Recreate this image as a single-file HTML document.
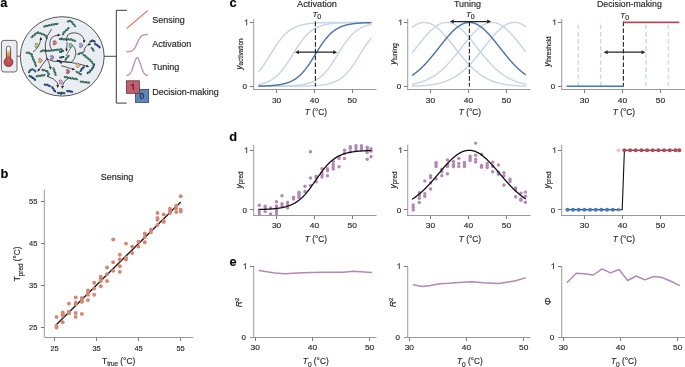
<!DOCTYPE html><html><head><meta charset="utf-8"><style>html,body{margin:0;padding:0;background:#fff;font-family:"Liberation Sans",sans-serif;}svg{display:block;will-change:transform;} text{stroke:#262626;stroke-width:0.15px;}</style></head><body><svg width="685" height="367" viewBox="0 0 685 367" font-family="'Liberation Sans', sans-serif">
<rect width="685" height="367" fill="#fff"/>
<text x="0.3" y="6.8" font-size="12.8" text-anchor="start" fill="#000" font-weight="bold" font-style="normal" >a</text>
<text x="0.6" y="177.9" font-size="12.8" text-anchor="start" fill="#000" font-weight="bold" font-style="normal" >b</text>
<text x="229.4" y="6.9" font-size="12.8" text-anchor="start" fill="#000" font-weight="bold" font-style="normal" >c</text>
<text x="229.3" y="141.2" font-size="12.8" text-anchor="start" fill="#000" font-weight="bold" font-style="normal" >d</text>
<text x="229.4" y="265.8" font-size="12.8" text-anchor="start" fill="#000" font-weight="bold" font-style="normal" >e</text>
<line x1="253.72" y1="19.0" x2="253.72" y2="89.5" stroke="#999999" stroke-width="1" />
<line x1="253.0" y1="89.5" x2="376.5" y2="89.5" stroke="#999999" stroke-width="1" />
<line x1="249.9" y1="22.5" x2="253.5" y2="22.5" stroke="#6e6e6e" stroke-width="0.9" />
<line x1="249.9" y1="86.5" x2="253.5" y2="86.5" stroke="#6e6e6e" stroke-width="0.9" />
<path d="M246.70,19.65 V25.25 M244.70,21.05 Q246.10,20.70 246.70,19.65" fill="none" stroke="#3a3a3a" stroke-width="0.95"/>
<text x="244.8" y="89.1" font-size="8" text-anchor="middle" fill="#262626" font-weight="normal" font-style="normal" >0</text>
<line x1="276.5" y1="89.5" x2="276.5" y2="93.0" stroke="#6e6e6e" stroke-width="0.9" />
<text x="276.6" y="102.9" font-size="8" text-anchor="middle" fill="#262626" font-weight="normal" font-style="normal" textLength="9.3" lengthAdjust="spacingAndGlyphs" >30</text>
<line x1="314.5" y1="89.5" x2="314.5" y2="93.0" stroke="#6e6e6e" stroke-width="0.9" />
<text x="314.40000000000003" y="102.9" font-size="8" text-anchor="middle" fill="#262626" font-weight="normal" font-style="normal" textLength="9.3" lengthAdjust="spacingAndGlyphs" >40</text>
<line x1="352.5" y1="89.5" x2="352.5" y2="93.0" stroke="#6e6e6e" stroke-width="0.9" />
<text x="352.20000000000005" y="102.9" font-size="8" text-anchor="middle" fill="#262626" font-weight="normal" font-style="normal" textLength="9.3" lengthAdjust="spacingAndGlyphs" >50</text>
<text x="304.8" y="115.3" font-size="8.3" fill="#262626"><tspan font-style="italic">T</tspan> (°C)</text>
<text x="317.05" y="6.6" font-size="9" text-anchor="middle" fill="#262626" font-weight="normal" font-style="normal" textLength="39.9" lengthAdjust="spacingAndGlyphs" >Activation</text>
<line x1="407.72" y1="19.0" x2="407.72" y2="89.5" stroke="#999999" stroke-width="1" />
<line x1="407.0" y1="89.5" x2="530.5" y2="89.5" stroke="#999999" stroke-width="1" />
<line x1="403.9" y1="22.5" x2="407.5" y2="22.5" stroke="#6e6e6e" stroke-width="0.9" />
<line x1="403.9" y1="86.5" x2="407.5" y2="86.5" stroke="#6e6e6e" stroke-width="0.9" />
<path d="M400.80,19.65 V25.25 M398.80,21.05 Q400.20,20.70 400.80,19.65" fill="none" stroke="#3a3a3a" stroke-width="0.95"/>
<text x="398.9" y="89.1" font-size="8" text-anchor="middle" fill="#262626" font-weight="normal" font-style="normal" >0</text>
<line x1="430.5" y1="89.5" x2="430.5" y2="93.0" stroke="#6e6e6e" stroke-width="0.9" />
<text x="430.4" y="102.9" font-size="8" text-anchor="middle" fill="#262626" font-weight="normal" font-style="normal" textLength="9.3" lengthAdjust="spacingAndGlyphs" >30</text>
<line x1="468.5" y1="89.5" x2="468.5" y2="93.0" stroke="#6e6e6e" stroke-width="0.9" />
<text x="468.4" y="102.9" font-size="8" text-anchor="middle" fill="#262626" font-weight="normal" font-style="normal" textLength="9.3" lengthAdjust="spacingAndGlyphs" >40</text>
<line x1="506.5" y1="89.5" x2="506.5" y2="93.0" stroke="#6e6e6e" stroke-width="0.9" />
<text x="506.4" y="102.9" font-size="8" text-anchor="middle" fill="#262626" font-weight="normal" font-style="normal" textLength="9.3" lengthAdjust="spacingAndGlyphs" >50</text>
<text x="458.8" y="115.3" font-size="8.3" fill="#262626"><tspan font-style="italic">T</tspan> (°C)</text>
<text x="467.4" y="6.6" font-size="9" text-anchor="middle" fill="#262626" font-weight="normal" font-style="normal" textLength="27.0" lengthAdjust="spacingAndGlyphs" >Tuning</text>
<line x1="561.72" y1="19.0" x2="561.72" y2="89.5" stroke="#999999" stroke-width="1" />
<line x1="561.0" y1="89.5" x2="685" y2="89.5" stroke="#999999" stroke-width="1" />
<line x1="557.9" y1="22.5" x2="561.5" y2="22.5" stroke="#6e6e6e" stroke-width="0.9" />
<line x1="557.9" y1="86.5" x2="561.5" y2="86.5" stroke="#6e6e6e" stroke-width="0.9" />
<path d="M554.80,19.65 V25.25 M552.80,21.05 Q554.20,20.70 554.80,19.65" fill="none" stroke="#3a3a3a" stroke-width="0.95"/>
<text x="552.9" y="89.1" font-size="8" text-anchor="middle" fill="#262626" font-weight="normal" font-style="normal" >0</text>
<line x1="584.5" y1="89.5" x2="584.5" y2="93.0" stroke="#6e6e6e" stroke-width="0.9" />
<text x="584.4" y="102.9" font-size="8" text-anchor="middle" fill="#262626" font-weight="normal" font-style="normal" textLength="9.3" lengthAdjust="spacingAndGlyphs" >30</text>
<line x1="622.5" y1="89.5" x2="622.5" y2="93.0" stroke="#6e6e6e" stroke-width="0.9" />
<text x="622.4" y="102.9" font-size="8" text-anchor="middle" fill="#262626" font-weight="normal" font-style="normal" textLength="9.3" lengthAdjust="spacingAndGlyphs" >40</text>
<line x1="660.5" y1="89.5" x2="660.5" y2="93.0" stroke="#6e6e6e" stroke-width="0.9" />
<text x="660.4" y="102.9" font-size="8" text-anchor="middle" fill="#262626" font-weight="normal" font-style="normal" textLength="9.3" lengthAdjust="spacingAndGlyphs" >50</text>
<text x="612.8" y="115.3" font-size="8.3" fill="#262626"><tspan font-style="italic">T</tspan> (°C)</text>
<text x="629.4" y="6.6" font-size="9" text-anchor="middle" fill="#262626" font-weight="normal" font-style="normal" textLength="64.8" lengthAdjust="spacingAndGlyphs" >Decision-making</text>
<polyline points="258.83,71.42 259.21,70.98 259.59,70.53 259.97,70.06 260.35,69.59 260.72,69.11 261.10,68.63 261.48,68.13 261.86,67.63 262.24,67.11 262.61,66.59 262.99,66.07 263.37,65.53 263.75,64.99 264.13,64.44 264.50,63.88 264.88,63.32 265.26,62.75 265.64,62.18 266.02,61.59 266.39,61.01 266.77,60.42 267.15,59.83 267.53,59.23 267.91,58.63 268.28,58.02 268.66,57.41 269.04,56.80 269.42,56.19 269.80,55.58 270.17,54.96 270.55,54.35 270.93,53.74 271.31,53.12 271.69,52.51 272.06,51.90 272.44,51.29 272.82,50.68 273.20,50.07 273.58,49.47 273.95,48.87 274.33,48.28 274.71,47.69 275.09,47.11 275.47,46.52 275.84,45.95 276.22,45.38 276.60,44.82 276.98,44.26 277.36,43.71 277.73,43.17 278.11,42.63 278.49,42.11 278.87,41.59 279.25,41.07 279.62,40.57 280.00,40.07 280.38,39.59 280.76,39.11 281.14,38.64 281.51,38.17 281.89,37.72 282.27,37.28 282.65,36.84 283.03,36.42 283.40,36.00 283.78,35.60 284.16,35.20 284.54,34.81 284.92,34.43 285.29,34.06 285.67,33.69 286.05,33.34 286.43,33.00 286.81,32.66 287.18,32.33 287.56,32.02 287.94,31.71 288.32,31.40 288.70,31.11 289.07,30.83 289.45,30.55 289.83,30.28 290.21,30.02 290.59,29.76 290.96,29.52 291.34,29.28 291.72,29.04 292.10,28.82 292.48,28.60 292.85,28.39 293.23,28.18 293.61,27.98 293.99,27.79 294.37,27.60 294.74,27.42 295.12,27.25 295.50,27.08 295.88,26.91 296.26,26.76 296.63,26.60 297.01,26.45 297.39,26.31 297.77,26.17 298.15,26.04 298.52,25.91 298.90,25.78 299.28,25.66 299.66,25.54 300.04,25.43 300.41,25.32 300.79,25.22 301.17,25.11 301.55,25.02 301.93,24.92 302.30,24.83 302.68,24.74 303.06,24.66 303.44,24.57 303.82,24.49 304.19,24.42 304.57,24.34 304.95,24.27 305.33,24.20 305.71,24.14 306.08,24.07 306.46,24.01 306.84,23.95 307.22,23.90 307.60,23.84 307.97,23.79 308.35,23.74 308.73,23.69 309.11,23.64 309.49,23.59 309.86,23.55 310.24,23.51 310.62,23.47 311.00,23.43 311.38,23.39 311.75,23.35 312.13,23.32 312.51,23.28 312.89,23.25 313.27,23.22 313.64,23.19 314.02,23.16 314.40,23.13 314.78,23.10 315.16,23.08 315.53,23.05 315.91,23.03 316.29,23.00 316.67,22.98 317.05,22.96 317.42,22.94 317.80,22.92 318.18,22.90 318.56,22.88 318.94,22.86 319.31,22.84 319.69,22.83 320.07,22.81 320.45,22.80 320.83,22.78 321.20,22.77 321.58,22.75 321.96,22.74 322.34,22.73 322.72,22.71 323.09,22.70 323.47,22.69 323.85,22.68 324.23,22.67 324.61,22.66 324.98,22.65 325.36,22.64 325.74,22.63 326.12,22.62 326.50,22.61 326.87,22.61 327.25,22.60 327.63,22.59 328.01,22.58 328.39,22.58 328.76,22.57 329.14,22.56 329.52,22.56 329.90,22.55 330.28,22.55 330.65,22.54 331.03,22.54 331.41,22.53 331.79,22.53 332.17,22.52 332.54,22.52 332.92,22.51 333.30,22.51 333.68,22.50 334.06,22.50 334.43,22.50 334.81,22.49 335.19,22.49 335.57,22.49 335.95,22.48 336.32,22.48 336.70,22.48 337.08,22.47 337.46,22.47 337.84,22.47 338.21,22.47 338.59,22.46 338.97,22.46 339.35,22.46 339.73,22.46 340.10,22.45 340.48,22.45 340.86,22.45 341.24,22.45 341.62,22.45 341.99,22.44 342.37,22.44 342.75,22.44 343.13,22.44 343.51,22.44 343.88,22.44 344.26,22.44 344.64,22.43 345.02,22.43 345.40,22.43 345.77,22.43 346.15,22.43 346.53,22.43 346.91,22.43 347.29,22.43 347.66,22.42 348.04,22.42 348.42,22.42 348.80,22.42 349.18,22.42 349.55,22.42 349.93,22.42 350.31,22.42 350.69,22.42 351.07,22.42 351.44,22.42 351.82,22.42 352.20,22.42 352.58,22.42 352.96,22.41 353.33,22.41 353.71,22.41 354.09,22.41 354.47,22.41 354.85,22.41 355.22,22.41 355.60,22.41 355.98,22.41 356.36,22.41 356.74,22.41 357.11,22.41 357.49,22.41 357.87,22.41 358.25,22.41 358.63,22.41 359.00,22.41 359.38,22.41 359.76,22.41 360.14,22.41 360.52,22.41 360.89,22.41 361.27,22.41 361.65,22.41 362.03,22.41 362.41,22.41 362.78,22.41 363.16,22.41 363.54,22.40 363.92,22.40 364.30,22.40 364.67,22.40 365.05,22.40 365.43,22.40 365.81,22.40 366.19,22.40 366.56,22.40 366.94,22.40 367.32,22.40 367.70,22.40 368.08,22.40 368.45,22.40 368.83,22.40 369.21,22.40 369.59,22.40 369.97,22.40 370.34,22.40 370.72,22.40 371.10,22.40" fill="none" stroke="#c8d5e7" stroke-width="1.45" stroke-linejoin="round" stroke-linecap="round" />
<polyline points="258.83,84.36 259.21,84.28 259.59,84.21 259.97,84.13 260.35,84.04 260.72,83.96 261.10,83.87 261.48,83.78 261.86,83.68 262.24,83.59 262.61,83.48 262.99,83.38 263.37,83.27 263.75,83.16 264.13,83.04 264.50,82.92 264.88,82.79 265.26,82.66 265.64,82.53 266.02,82.39 266.39,82.25 266.77,82.10 267.15,81.94 267.53,81.79 267.91,81.62 268.28,81.45 268.66,81.28 269.04,81.10 269.42,80.91 269.80,80.72 270.17,80.52 270.55,80.31 270.93,80.10 271.31,79.88 271.69,79.66 272.06,79.42 272.44,79.18 272.82,78.94 273.20,78.68 273.58,78.42 273.95,78.15 274.33,77.87 274.71,77.59 275.09,77.30 275.47,76.99 275.84,76.68 276.22,76.37 276.60,76.04 276.98,75.70 277.36,75.36 277.73,75.01 278.11,74.64 278.49,74.27 278.87,73.89 279.25,73.50 279.62,73.10 280.00,72.70 280.38,72.28 280.76,71.86 281.14,71.42 281.51,70.98 281.89,70.53 282.27,70.06 282.65,69.59 283.03,69.11 283.40,68.63 283.78,68.13 284.16,67.63 284.54,67.11 284.92,66.59 285.29,66.07 285.67,65.53 286.05,64.99 286.43,64.44 286.81,63.88 287.18,63.32 287.56,62.75 287.94,62.18 288.32,61.59 288.70,61.01 289.07,60.42 289.45,59.83 289.83,59.23 290.21,58.63 290.59,58.02 290.96,57.41 291.34,56.80 291.72,56.19 292.10,55.58 292.48,54.96 292.85,54.35 293.23,53.74 293.61,53.12 293.99,52.51 294.37,51.90 294.74,51.29 295.12,50.68 295.50,50.07 295.88,49.47 296.26,48.87 296.63,48.28 297.01,47.69 297.39,47.11 297.77,46.52 298.15,45.95 298.52,45.38 298.90,44.82 299.28,44.26 299.66,43.71 300.04,43.17 300.41,42.63 300.79,42.11 301.17,41.59 301.55,41.07 301.93,40.57 302.30,40.07 302.68,39.59 303.06,39.11 303.44,38.64 303.82,38.17 304.19,37.72 304.57,37.28 304.95,36.84 305.33,36.42 305.71,36.00 306.08,35.60 306.46,35.20 306.84,34.81 307.22,34.43 307.60,34.06 307.97,33.69 308.35,33.34 308.73,33.00 309.11,32.66 309.49,32.33 309.86,32.02 310.24,31.71 310.62,31.40 311.00,31.11 311.38,30.83 311.75,30.55 312.13,30.28 312.51,30.02 312.89,29.76 313.27,29.52 313.64,29.28 314.02,29.04 314.40,28.82 314.78,28.60 315.16,28.39 315.53,28.18 315.91,27.98 316.29,27.79 316.67,27.60 317.05,27.42 317.42,27.25 317.80,27.08 318.18,26.91 318.56,26.76 318.94,26.60 319.31,26.45 319.69,26.31 320.07,26.17 320.45,26.04 320.83,25.91 321.20,25.78 321.58,25.66 321.96,25.54 322.34,25.43 322.72,25.32 323.09,25.22 323.47,25.11 323.85,25.02 324.23,24.92 324.61,24.83 324.98,24.74 325.36,24.66 325.74,24.57 326.12,24.49 326.50,24.42 326.87,24.34 327.25,24.27 327.63,24.20 328.01,24.14 328.39,24.07 328.76,24.01 329.14,23.95 329.52,23.90 329.90,23.84 330.28,23.79 330.65,23.74 331.03,23.69 331.41,23.64 331.79,23.59 332.17,23.55 332.54,23.51 332.92,23.47 333.30,23.43 333.68,23.39 334.06,23.35 334.43,23.32 334.81,23.28 335.19,23.25 335.57,23.22 335.95,23.19 336.32,23.16 336.70,23.13 337.08,23.10 337.46,23.08 337.84,23.05 338.21,23.03 338.59,23.00 338.97,22.98 339.35,22.96 339.73,22.94 340.10,22.92 340.48,22.90 340.86,22.88 341.24,22.86 341.62,22.84 341.99,22.83 342.37,22.81 342.75,22.80 343.13,22.78 343.51,22.77 343.88,22.75 344.26,22.74 344.64,22.73 345.02,22.71 345.40,22.70 345.77,22.69 346.15,22.68 346.53,22.67 346.91,22.66 347.29,22.65 347.66,22.64 348.04,22.63 348.42,22.62 348.80,22.61 349.18,22.61 349.55,22.60 349.93,22.59 350.31,22.58 350.69,22.58 351.07,22.57 351.44,22.56 351.82,22.56 352.20,22.55 352.58,22.55 352.96,22.54 353.33,22.54 353.71,22.53 354.09,22.53 354.47,22.52 354.85,22.52 355.22,22.51 355.60,22.51 355.98,22.50 356.36,22.50 356.74,22.50 357.11,22.49 357.49,22.49 357.87,22.49 358.25,22.48 358.63,22.48 359.00,22.48 359.38,22.47 359.76,22.47 360.14,22.47 360.52,22.47 360.89,22.46 361.27,22.46 361.65,22.46 362.03,22.46 362.41,22.45 362.78,22.45 363.16,22.45 363.54,22.45 363.92,22.45 364.30,22.44 364.67,22.44 365.05,22.44 365.43,22.44 365.81,22.44 366.19,22.44 366.56,22.44 366.94,22.43 367.32,22.43 367.70,22.43 368.08,22.43 368.45,22.43 368.83,22.43 369.21,22.43 369.59,22.43 369.97,22.42 370.34,22.42 370.72,22.42 371.10,22.42" fill="none" stroke="#c8d5e7" stroke-width="1.45" stroke-linejoin="round" stroke-linecap="round" />
<polyline points="258.83,86.28 259.21,86.28 259.59,86.28 259.97,86.28 260.35,86.28 260.72,86.28 261.10,86.27 261.48,86.27 261.86,86.27 262.24,86.27 262.61,86.27 262.99,86.27 263.37,86.27 263.75,86.27 264.13,86.26 264.50,86.26 264.88,86.26 265.26,86.26 265.64,86.26 266.02,86.26 266.39,86.26 266.77,86.25 267.15,86.25 267.53,86.25 267.91,86.25 268.28,86.25 268.66,86.24 269.04,86.24 269.42,86.24 269.80,86.24 270.17,86.23 270.55,86.23 270.93,86.23 271.31,86.23 271.69,86.22 272.06,86.22 272.44,86.22 272.82,86.21 273.20,86.21 273.58,86.21 273.95,86.20 274.33,86.20 274.71,86.20 275.09,86.19 275.47,86.19 275.84,86.18 276.22,86.18 276.60,86.17 276.98,86.17 277.36,86.16 277.73,86.16 278.11,86.15 278.49,86.15 278.87,86.14 279.25,86.14 279.62,86.13 280.00,86.12 280.38,86.12 280.76,86.11 281.14,86.10 281.51,86.09 281.89,86.09 282.27,86.08 282.65,86.07 283.03,86.06 283.40,86.05 283.78,86.04 284.16,86.03 284.54,86.02 284.92,86.01 285.29,86.00 285.67,85.99 286.05,85.97 286.43,85.96 286.81,85.95 287.18,85.93 287.56,85.92 287.94,85.90 288.32,85.89 288.70,85.87 289.07,85.86 289.45,85.84 289.83,85.82 290.21,85.80 290.59,85.78 290.96,85.76 291.34,85.74 291.72,85.72 292.10,85.70 292.48,85.67 292.85,85.65 293.23,85.62 293.61,85.60 293.99,85.57 294.37,85.54 294.74,85.51 295.12,85.48 295.50,85.45 295.88,85.42 296.26,85.38 296.63,85.35 297.01,85.31 297.39,85.27 297.77,85.23 298.15,85.19 298.52,85.15 298.90,85.11 299.28,85.06 299.66,85.01 300.04,84.96 300.41,84.91 300.79,84.86 301.17,84.80 301.55,84.75 301.93,84.69 302.30,84.63 302.68,84.56 303.06,84.50 303.44,84.43 303.82,84.36 304.19,84.28 304.57,84.21 304.95,84.13 305.33,84.04 305.71,83.96 306.08,83.87 306.46,83.78 306.84,83.68 307.22,83.59 307.60,83.48 307.97,83.38 308.35,83.27 308.73,83.16 309.11,83.04 309.49,82.92 309.86,82.79 310.24,82.66 310.62,82.53 311.00,82.39 311.38,82.25 311.75,82.10 312.13,81.94 312.51,81.79 312.89,81.62 313.27,81.45 313.64,81.28 314.02,81.10 314.40,80.91 314.78,80.72 315.16,80.52 315.53,80.31 315.91,80.10 316.29,79.88 316.67,79.66 317.05,79.42 317.42,79.18 317.80,78.94 318.18,78.68 318.56,78.42 318.94,78.15 319.31,77.87 319.69,77.59 320.07,77.30 320.45,76.99 320.83,76.68 321.20,76.37 321.58,76.04 321.96,75.70 322.34,75.36 322.72,75.01 323.09,74.64 323.47,74.27 323.85,73.89 324.23,73.50 324.61,73.10 324.98,72.70 325.36,72.28 325.74,71.86 326.12,71.42 326.50,70.98 326.87,70.53 327.25,70.06 327.63,69.59 328.01,69.11 328.39,68.63 328.76,68.13 329.14,67.63 329.52,67.11 329.90,66.59 330.28,66.07 330.65,65.53 331.03,64.99 331.41,64.44 331.79,63.88 332.17,63.32 332.54,62.75 332.92,62.18 333.30,61.59 333.68,61.01 334.06,60.42 334.43,59.83 334.81,59.23 335.19,58.63 335.57,58.02 335.95,57.41 336.32,56.80 336.70,56.19 337.08,55.58 337.46,54.96 337.84,54.35 338.21,53.74 338.59,53.12 338.97,52.51 339.35,51.90 339.73,51.29 340.10,50.68 340.48,50.07 340.86,49.47 341.24,48.87 341.62,48.28 341.99,47.69 342.37,47.11 342.75,46.52 343.13,45.95 343.51,45.38 343.88,44.82 344.26,44.26 344.64,43.71 345.02,43.17 345.40,42.63 345.77,42.11 346.15,41.59 346.53,41.07 346.91,40.57 347.29,40.07 347.66,39.59 348.04,39.11 348.42,38.64 348.80,38.17 349.18,37.72 349.55,37.28 349.93,36.84 350.31,36.42 350.69,36.00 351.07,35.60 351.44,35.20 351.82,34.81 352.20,34.43 352.58,34.06 352.96,33.69 353.33,33.34 353.71,33.00 354.09,32.66 354.47,32.33 354.85,32.02 355.22,31.71 355.60,31.40 355.98,31.11 356.36,30.83 356.74,30.55 357.11,30.28 357.49,30.02 357.87,29.76 358.25,29.52 358.63,29.28 359.00,29.04 359.38,28.82 359.76,28.60 360.14,28.39 360.52,28.18 360.89,27.98 361.27,27.79 361.65,27.60 362.03,27.42 362.41,27.25 362.78,27.08 363.16,26.91 363.54,26.76 363.92,26.60 364.30,26.45 364.67,26.31 365.05,26.17 365.43,26.04 365.81,25.91 366.19,25.78 366.56,25.66 366.94,25.54 367.32,25.43 367.70,25.32 368.08,25.22 368.45,25.11 368.83,25.02 369.21,24.92 369.59,24.83 369.97,24.74 370.34,24.66 370.72,24.57 371.10,24.49" fill="none" stroke="#c8d5e7" stroke-width="1.45" stroke-linejoin="round" stroke-linecap="round" />
<polyline points="258.83,86.30 259.21,86.30 259.59,86.30 259.97,86.30 260.35,86.30 260.72,86.30 261.10,86.30 261.48,86.30 261.86,86.30 262.24,86.30 262.61,86.30 262.99,86.30 263.37,86.30 263.75,86.30 264.13,86.30 264.50,86.30 264.88,86.30 265.26,86.30 265.64,86.30 266.02,86.30 266.39,86.30 266.77,86.30 267.15,86.30 267.53,86.29 267.91,86.29 268.28,86.29 268.66,86.29 269.04,86.29 269.42,86.29 269.80,86.29 270.17,86.29 270.55,86.29 270.93,86.29 271.31,86.29 271.69,86.29 272.06,86.29 272.44,86.29 272.82,86.29 273.20,86.29 273.58,86.29 273.95,86.29 274.33,86.29 274.71,86.29 275.09,86.29 275.47,86.29 275.84,86.29 276.22,86.29 276.60,86.29 276.98,86.29 277.36,86.29 277.73,86.29 278.11,86.28 278.49,86.28 278.87,86.28 279.25,86.28 279.62,86.28 280.00,86.28 280.38,86.28 280.76,86.28 281.14,86.28 281.51,86.28 281.89,86.28 282.27,86.28 282.65,86.28 283.03,86.28 283.40,86.27 283.78,86.27 284.16,86.27 284.54,86.27 284.92,86.27 285.29,86.27 285.67,86.27 286.05,86.27 286.43,86.26 286.81,86.26 287.18,86.26 287.56,86.26 287.94,86.26 288.32,86.26 288.70,86.26 289.07,86.25 289.45,86.25 289.83,86.25 290.21,86.25 290.59,86.25 290.96,86.24 291.34,86.24 291.72,86.24 292.10,86.24 292.48,86.23 292.85,86.23 293.23,86.23 293.61,86.23 293.99,86.22 294.37,86.22 294.74,86.22 295.12,86.21 295.50,86.21 295.88,86.21 296.26,86.20 296.63,86.20 297.01,86.20 297.39,86.19 297.77,86.19 298.15,86.18 298.52,86.18 298.90,86.17 299.28,86.17 299.66,86.16 300.04,86.16 300.41,86.15 300.79,86.15 301.17,86.14 301.55,86.14 301.93,86.13 302.30,86.12 302.68,86.12 303.06,86.11 303.44,86.10 303.82,86.09 304.19,86.09 304.57,86.08 304.95,86.07 305.33,86.06 305.71,86.05 306.08,86.04 306.46,86.03 306.84,86.02 307.22,86.01 307.60,86.00 307.97,85.99 308.35,85.97 308.73,85.96 309.11,85.95 309.49,85.93 309.86,85.92 310.24,85.90 310.62,85.89 311.00,85.87 311.38,85.86 311.75,85.84 312.13,85.82 312.51,85.80 312.89,85.78 313.27,85.76 313.64,85.74 314.02,85.72 314.40,85.70 314.78,85.67 315.16,85.65 315.53,85.62 315.91,85.60 316.29,85.57 316.67,85.54 317.05,85.51 317.42,85.48 317.80,85.45 318.18,85.42 318.56,85.38 318.94,85.35 319.31,85.31 319.69,85.27 320.07,85.23 320.45,85.19 320.83,85.15 321.20,85.11 321.58,85.06 321.96,85.01 322.34,84.96 322.72,84.91 323.09,84.86 323.47,84.80 323.85,84.75 324.23,84.69 324.61,84.63 324.98,84.56 325.36,84.50 325.74,84.43 326.12,84.36 326.50,84.28 326.87,84.21 327.25,84.13 327.63,84.04 328.01,83.96 328.39,83.87 328.76,83.78 329.14,83.68 329.52,83.59 329.90,83.48 330.28,83.38 330.65,83.27 331.03,83.16 331.41,83.04 331.79,82.92 332.17,82.79 332.54,82.66 332.92,82.53 333.30,82.39 333.68,82.25 334.06,82.10 334.43,81.94 334.81,81.79 335.19,81.62 335.57,81.45 335.95,81.28 336.32,81.10 336.70,80.91 337.08,80.72 337.46,80.52 337.84,80.31 338.21,80.10 338.59,79.88 338.97,79.66 339.35,79.42 339.73,79.18 340.10,78.94 340.48,78.68 340.86,78.42 341.24,78.15 341.62,77.87 341.99,77.59 342.37,77.30 342.75,76.99 343.13,76.68 343.51,76.37 343.88,76.04 344.26,75.70 344.64,75.36 345.02,75.01 345.40,74.64 345.77,74.27 346.15,73.89 346.53,73.50 346.91,73.10 347.29,72.70 347.66,72.28 348.04,71.86 348.42,71.42 348.80,70.98 349.18,70.53 349.55,70.06 349.93,69.59 350.31,69.11 350.69,68.63 351.07,68.13 351.44,67.63 351.82,67.11 352.20,66.59 352.58,66.07 352.96,65.53 353.33,64.99 353.71,64.44 354.09,63.88 354.47,63.32 354.85,62.75 355.22,62.18 355.60,61.59 355.98,61.01 356.36,60.42 356.74,59.83 357.11,59.23 357.49,58.63 357.87,58.02 358.25,57.41 358.63,56.80 359.00,56.19 359.38,55.58 359.76,54.96 360.14,54.35 360.52,53.74 360.89,53.12 361.27,52.51 361.65,51.90 362.03,51.29 362.41,50.68 362.78,50.07 363.16,49.47 363.54,48.87 363.92,48.28 364.30,47.69 364.67,47.11 365.05,46.52 365.43,45.95 365.81,45.38 366.19,44.82 366.56,44.26 366.94,43.71 367.32,43.17 367.70,42.63 368.08,42.11 368.45,41.59 368.83,41.07 369.21,40.57 369.59,40.07 369.97,39.59 370.34,39.11 370.72,38.64 371.10,38.17" fill="none" stroke="#c8d5e7" stroke-width="1.45" stroke-linejoin="round" stroke-linecap="round" />
<polyline points="258.83,86.10 259.21,86.09 259.59,86.08 259.97,86.07 260.35,86.06 260.72,86.06 261.10,86.05 261.48,86.04 261.86,86.03 262.24,86.01 262.61,86.00 262.99,85.99 263.37,85.98 263.75,85.97 264.13,85.95 264.50,85.94 264.88,85.93 265.26,85.91 265.64,85.90 266.02,85.88 266.39,85.87 266.77,85.85 267.15,85.83 267.53,85.81 267.91,85.79 268.28,85.77 268.66,85.75 269.04,85.73 269.42,85.71 269.80,85.69 270.17,85.66 270.55,85.64 270.93,85.61 271.31,85.59 271.69,85.56 272.06,85.53 272.44,85.50 272.82,85.47 273.20,85.44 273.58,85.40 273.95,85.37 274.33,85.33 274.71,85.30 275.09,85.26 275.47,85.22 275.84,85.18 276.22,85.13 276.60,85.09 276.98,85.04 277.36,84.99 277.73,84.94 278.11,84.89 278.49,84.84 278.87,84.78 279.25,84.72 279.62,84.66 280.00,84.60 280.38,84.54 280.76,84.47 281.14,84.40 281.51,84.33 281.89,84.25 282.27,84.17 282.65,84.09 283.03,84.01 283.40,83.92 283.78,83.83 284.16,83.74 284.54,83.65 284.92,83.55 285.29,83.44 285.67,83.34 286.05,83.22 286.43,83.11 286.81,82.99 287.18,82.87 287.56,82.74 287.94,82.61 288.32,82.47 288.70,82.33 289.07,82.19 289.45,82.04 289.83,81.88 290.21,81.72 290.59,81.56 290.96,81.38 291.34,81.21 291.72,81.02 292.10,80.83 292.48,80.64 292.85,80.44 293.23,80.23 293.61,80.01 293.99,79.79 294.37,79.56 294.74,79.33 295.12,79.09 295.50,78.84 295.88,78.58 296.26,78.31 296.63,78.04 297.01,77.76 297.39,77.47 297.77,77.18 298.15,76.87 298.52,76.56 298.90,76.24 299.28,75.91 299.66,75.57 300.04,75.22 300.41,74.86 300.79,74.50 301.17,74.12 301.55,73.74 301.93,73.34 302.30,72.94 302.68,72.53 303.06,72.11 303.44,71.68 303.82,71.24 304.19,70.80 304.57,70.34 304.95,69.88 305.33,69.40 305.71,68.92 306.08,68.43 306.46,67.93 306.84,67.42 307.22,66.91 307.60,66.38 307.97,65.85 308.35,65.31 308.73,64.77 309.11,64.22 309.49,63.66 309.86,63.09 310.24,62.52 310.62,61.94 311.00,61.36 311.38,60.77 311.75,60.18 312.13,59.59 312.51,58.99 312.89,58.38 313.27,57.78 313.64,57.17 314.02,56.56 314.40,55.95 314.78,55.33 315.16,54.72 315.53,54.10 315.91,53.49 316.29,52.88 316.67,52.26 317.05,51.65 317.42,51.04 317.80,50.44 318.18,49.83 318.56,49.23 318.94,48.64 319.31,48.04 319.69,47.46 320.07,46.87 320.45,46.29 320.83,45.72 321.20,45.16 321.58,44.59 321.96,44.04 322.34,43.49 322.72,42.95 323.09,42.42 323.47,41.90 323.85,41.38 324.23,40.87 324.61,40.37 324.98,39.88 325.36,39.39 325.74,38.92 326.12,38.45 326.50,37.99 326.87,37.54 327.25,37.10 327.63,36.67 328.01,36.25 328.39,35.84 328.76,35.43 329.14,35.04 329.52,34.65 329.90,34.28 330.28,33.91 330.65,33.55 331.03,33.20 331.41,32.86 331.79,32.53 332.17,32.21 332.54,31.89 332.92,31.58 333.30,31.29 333.68,31.00 334.06,30.71 334.43,30.44 334.81,30.17 335.19,29.91 335.57,29.66 335.95,29.42 336.32,29.18 336.70,28.95 337.08,28.73 337.46,28.51 337.84,28.30 338.21,28.10 338.59,27.91 338.97,27.71 339.35,27.53 339.73,27.35 340.10,27.18 340.48,27.01 340.86,26.85 341.24,26.69 341.62,26.54 341.99,26.40 342.37,26.25 342.75,26.12 343.13,25.98 343.51,25.86 343.88,25.73 344.26,25.61 344.64,25.50 345.02,25.39 345.40,25.28 345.77,25.17 346.15,25.07 346.53,24.98 346.91,24.88 347.29,24.79 347.66,24.71 348.04,24.62 348.42,24.54 348.80,24.46 349.18,24.39 349.55,24.32 349.93,24.25 350.31,24.18 350.69,24.11 351.07,24.05 351.44,23.99 351.82,23.93 352.20,23.87 352.58,23.82 352.96,23.77 353.33,23.72 353.71,23.67 354.09,23.62 354.47,23.58 354.85,23.53 355.22,23.49 355.60,23.45 355.98,23.41 356.36,23.37 356.74,23.34 357.11,23.30 357.49,23.27 357.87,23.24 358.25,23.21 358.63,23.18 359.00,23.15 359.38,23.12 359.76,23.09 360.14,23.07 360.52,23.04 360.89,23.02 361.27,22.99 361.65,22.97 362.03,22.95 362.41,22.93 362.78,22.91 363.16,22.89 363.54,22.87 363.92,22.85 364.30,22.84 364.67,22.82 365.05,22.81 365.43,22.79 365.81,22.78 366.19,22.76 366.56,22.75 366.94,22.73 367.32,22.72 367.70,22.71 368.08,22.70 368.45,22.69 368.83,22.68 369.21,22.67 369.59,22.66 369.97,22.65 370.34,22.64 370.72,22.63 371.10,22.62" fill="none" stroke="#4f74a8" stroke-width="1.45" stroke-linejoin="round" stroke-linecap="round" />
<polyline points="412.54,27.02 412.92,26.74 413.30,26.46 413.68,26.20 414.06,25.94 414.44,25.69 414.82,25.45 415.20,25.21 415.58,24.99 415.96,24.77 416.34,24.56 416.72,24.37 417.10,24.18 417.48,24.00 417.86,23.83 418.24,23.67 418.62,23.51 419.00,23.37 419.38,23.24 419.76,23.11 420.14,23.00 420.52,22.90 420.90,22.80 421.28,22.72 421.66,22.64 422.04,22.58 422.42,22.52 422.80,22.48 423.18,22.44 423.56,22.42 423.94,22.40 424.32,22.40 424.70,22.40 425.08,22.42 425.46,22.44 425.84,22.48 426.22,22.52 426.60,22.58 426.98,22.64 427.36,22.72 427.74,22.80 428.12,22.90 428.50,23.00 428.88,23.11 429.26,23.24 429.64,23.37 430.02,23.51 430.40,23.67 430.78,23.83 431.16,24.00 431.54,24.18 431.92,24.37 432.30,24.56 432.68,24.77 433.06,24.99 433.44,25.21 433.82,25.45 434.20,25.69 434.58,25.94 434.96,26.20 435.34,26.46 435.72,26.74 436.10,27.02 436.48,27.31 436.86,27.61 437.24,27.92 437.62,28.23 438.00,28.55 438.38,28.88 438.76,29.22 439.14,29.56 439.52,29.91 439.90,30.26 440.28,30.63 440.66,30.99 441.04,31.37 441.42,31.75 441.80,32.14 442.18,32.53 442.56,32.93 442.94,33.33 443.32,33.74 443.70,34.15 444.08,34.57 444.46,34.99 444.84,35.42 445.22,35.85 445.60,36.29 445.98,36.72 446.36,37.17 446.74,37.62 447.12,38.07 447.50,38.52 447.88,38.98 448.26,39.44 448.64,39.90 449.02,40.36 449.40,40.83 449.78,41.30 450.16,41.77 450.54,42.25 450.92,42.72 451.30,43.20 451.68,43.68 452.06,44.16 452.44,44.64 452.82,45.12 453.20,45.61 453.58,46.09 453.96,46.57 454.34,47.06 454.72,47.54 455.10,48.03 455.48,48.51 455.86,49.00 456.24,49.48 456.62,49.96 457.00,50.44 457.38,50.93 457.76,51.41 458.14,51.89 458.52,52.36 458.90,52.84 459.28,53.31 459.66,53.79 460.04,54.26 460.42,54.73 460.80,55.20 461.18,55.66 461.56,56.13 461.94,56.59 462.32,57.04 462.70,57.50 463.08,57.95 463.46,58.40 463.84,58.85 464.22,59.30 464.60,59.74 464.98,60.18 465.36,60.61 465.74,61.04 466.12,61.47 466.50,61.90 466.88,62.32 467.26,62.74 467.64,63.15 468.02,63.56 468.40,63.97 468.78,64.37 469.16,64.77 469.54,65.16 469.92,65.55 470.30,65.94 470.68,66.32 471.06,66.70 471.44,67.08 471.82,67.45 472.20,67.81 472.58,68.18 472.96,68.53 473.34,68.89 473.72,69.24 474.10,69.58 474.48,69.92 474.86,70.26 475.24,70.59 475.62,70.91 476.00,71.24 476.38,71.55 476.76,71.87 477.14,72.18 477.52,72.48 477.90,72.78 478.28,73.08 478.66,73.37 479.04,73.65 479.42,73.94 479.80,74.21 480.18,74.49 480.56,74.76 480.94,75.02 481.32,75.28 481.70,75.54 482.08,75.79 482.46,76.04 482.84,76.28 483.22,76.52 483.60,76.75 483.98,76.99 484.36,77.21 484.74,77.43 485.12,77.65 485.50,77.87 485.88,78.08 486.26,78.28 486.64,78.48 487.02,78.68 487.40,78.88 487.78,79.07 488.16,79.25 488.54,79.44 488.92,79.62 489.30,79.79 489.68,79.97 490.06,80.13 490.44,80.30 490.82,80.46 491.20,80.62 491.58,80.77 491.96,80.92 492.34,81.07 492.72,81.22 493.10,81.36 493.48,81.50 493.86,81.63 494.24,81.76 494.62,81.89 495.00,82.02 495.38,82.14 495.76,82.26 496.14,82.38 496.52,82.49 496.90,82.60 497.28,82.71 497.66,82.82 498.04,82.92 498.42,83.02 498.80,83.12 499.18,83.22 499.56,83.31 499.94,83.40 500.32,83.49 500.70,83.58 501.08,83.66 501.46,83.75 501.84,83.83 502.22,83.90 502.60,83.98 502.98,84.05 503.36,84.12 503.74,84.19 504.12,84.26 504.50,84.33 504.88,84.39 505.26,84.45 505.64,84.51 506.02,84.57 506.40,84.63 506.78,84.69 507.16,84.74 507.54,84.79 507.92,84.84 508.30,84.89 508.68,84.94 509.06,84.99 509.44,85.03 509.82,85.08 510.20,85.12 510.58,85.16 510.96,85.20 511.34,85.24 511.72,85.28 512.10,85.31 512.48,85.35 512.86,85.38 513.24,85.41 513.62,85.45 514.00,85.48 514.38,85.51 514.76,85.54 515.14,85.56 515.52,85.59 515.90,85.62 516.28,85.64 516.66,85.67 517.04,85.69 517.42,85.71 517.80,85.73 518.18,85.76 518.56,85.78 518.94,85.80 519.32,85.82 519.70,85.83 520.08,85.85 520.46,85.87 520.84,85.89 521.22,85.90 521.60,85.92 521.98,85.93 522.36,85.95 522.74,85.96 523.12,85.98 523.50,85.99 523.88,86.00 524.26,86.01 524.64,86.02 525.02,86.04 525.40,86.05" fill="none" stroke="#c8d5e7" stroke-width="1.45" stroke-linejoin="round" stroke-linecap="round" />
<polyline points="412.54,52.36 412.92,51.89 413.30,51.41 413.68,50.93 414.06,50.44 414.44,49.96 414.82,49.48 415.20,49.00 415.58,48.51 415.96,48.03 416.34,47.54 416.72,47.06 417.10,46.57 417.48,46.09 417.86,45.61 418.24,45.12 418.62,44.64 419.00,44.16 419.38,43.68 419.76,43.20 420.14,42.72 420.52,42.25 420.90,41.77 421.28,41.30 421.66,40.83 422.04,40.36 422.42,39.90 422.80,39.44 423.18,38.98 423.56,38.52 423.94,38.07 424.32,37.62 424.70,37.17 425.08,36.72 425.46,36.29 425.84,35.85 426.22,35.42 426.60,34.99 426.98,34.57 427.36,34.15 427.74,33.74 428.12,33.33 428.50,32.93 428.88,32.53 429.26,32.14 429.64,31.75 430.02,31.37 430.40,30.99 430.78,30.63 431.16,30.26 431.54,29.91 431.92,29.56 432.30,29.22 432.68,28.88 433.06,28.55 433.44,28.23 433.82,27.92 434.20,27.61 434.58,27.31 434.96,27.02 435.34,26.74 435.72,26.46 436.10,26.20 436.48,25.94 436.86,25.69 437.24,25.45 437.62,25.21 438.00,24.99 438.38,24.77 438.76,24.56 439.14,24.37 439.52,24.18 439.90,24.00 440.28,23.83 440.66,23.67 441.04,23.51 441.42,23.37 441.80,23.24 442.18,23.11 442.56,23.00 442.94,22.90 443.32,22.80 443.70,22.72 444.08,22.64 444.46,22.58 444.84,22.52 445.22,22.48 445.60,22.44 445.98,22.42 446.36,22.40 446.74,22.40 447.12,22.40 447.50,22.42 447.88,22.44 448.26,22.48 448.64,22.52 449.02,22.58 449.40,22.64 449.78,22.72 450.16,22.80 450.54,22.90 450.92,23.00 451.30,23.11 451.68,23.24 452.06,23.37 452.44,23.51 452.82,23.67 453.20,23.83 453.58,24.00 453.96,24.18 454.34,24.37 454.72,24.56 455.10,24.77 455.48,24.99 455.86,25.21 456.24,25.45 456.62,25.69 457.00,25.94 457.38,26.20 457.76,26.46 458.14,26.74 458.52,27.02 458.90,27.31 459.28,27.61 459.66,27.92 460.04,28.23 460.42,28.55 460.80,28.88 461.18,29.22 461.56,29.56 461.94,29.91 462.32,30.26 462.70,30.63 463.08,30.99 463.46,31.37 463.84,31.75 464.22,32.14 464.60,32.53 464.98,32.93 465.36,33.33 465.74,33.74 466.12,34.15 466.50,34.57 466.88,34.99 467.26,35.42 467.64,35.85 468.02,36.29 468.40,36.72 468.78,37.17 469.16,37.62 469.54,38.07 469.92,38.52 470.30,38.98 470.68,39.44 471.06,39.90 471.44,40.36 471.82,40.83 472.20,41.30 472.58,41.77 472.96,42.25 473.34,42.72 473.72,43.20 474.10,43.68 474.48,44.16 474.86,44.64 475.24,45.12 475.62,45.61 476.00,46.09 476.38,46.57 476.76,47.06 477.14,47.54 477.52,48.03 477.90,48.51 478.28,49.00 478.66,49.48 479.04,49.96 479.42,50.44 479.80,50.93 480.18,51.41 480.56,51.89 480.94,52.36 481.32,52.84 481.70,53.31 482.08,53.79 482.46,54.26 482.84,54.73 483.22,55.20 483.60,55.66 483.98,56.13 484.36,56.59 484.74,57.04 485.12,57.50 485.50,57.95 485.88,58.40 486.26,58.85 486.64,59.30 487.02,59.74 487.40,60.18 487.78,60.61 488.16,61.04 488.54,61.47 488.92,61.90 489.30,62.32 489.68,62.74 490.06,63.15 490.44,63.56 490.82,63.97 491.20,64.37 491.58,64.77 491.96,65.16 492.34,65.55 492.72,65.94 493.10,66.32 493.48,66.70 493.86,67.08 494.24,67.45 494.62,67.81 495.00,68.18 495.38,68.53 495.76,68.89 496.14,69.24 496.52,69.58 496.90,69.92 497.28,70.26 497.66,70.59 498.04,70.91 498.42,71.24 498.80,71.55 499.18,71.87 499.56,72.18 499.94,72.48 500.32,72.78 500.70,73.08 501.08,73.37 501.46,73.65 501.84,73.94 502.22,74.21 502.60,74.49 502.98,74.76 503.36,75.02 503.74,75.28 504.12,75.54 504.50,75.79 504.88,76.04 505.26,76.28 505.64,76.52 506.02,76.75 506.40,76.99 506.78,77.21 507.16,77.43 507.54,77.65 507.92,77.87 508.30,78.08 508.68,78.28 509.06,78.48 509.44,78.68 509.82,78.88 510.20,79.07 510.58,79.25 510.96,79.44 511.34,79.62 511.72,79.79 512.10,79.97 512.48,80.13 512.86,80.30 513.24,80.46 513.62,80.62 514.00,80.77 514.38,80.92 514.76,81.07 515.14,81.22 515.52,81.36 515.90,81.50 516.28,81.63 516.66,81.76 517.04,81.89 517.42,82.02 517.80,82.14 518.18,82.26 518.56,82.38 518.94,82.49 519.32,82.60 519.70,82.71 520.08,82.82 520.46,82.92 520.84,83.02 521.22,83.12 521.60,83.22 521.98,83.31 522.36,83.40 522.74,83.49 523.12,83.58 523.50,83.66 523.88,83.75 524.26,83.83 524.64,83.90 525.02,83.98 525.40,84.05" fill="none" stroke="#c8d5e7" stroke-width="1.45" stroke-linejoin="round" stroke-linecap="round" />
<polyline points="412.54,84.19 412.92,84.12 413.30,84.05 413.68,83.98 414.06,83.90 414.44,83.83 414.82,83.75 415.20,83.66 415.58,83.58 415.96,83.49 416.34,83.40 416.72,83.31 417.10,83.22 417.48,83.12 417.86,83.02 418.24,82.92 418.62,82.82 419.00,82.71 419.38,82.60 419.76,82.49 420.14,82.38 420.52,82.26 420.90,82.14 421.28,82.02 421.66,81.89 422.04,81.76 422.42,81.63 422.80,81.50 423.18,81.36 423.56,81.22 423.94,81.07 424.32,80.92 424.70,80.77 425.08,80.62 425.46,80.46 425.84,80.30 426.22,80.13 426.60,79.97 426.98,79.79 427.36,79.62 427.74,79.44 428.12,79.25 428.50,79.07 428.88,78.88 429.26,78.68 429.64,78.48 430.02,78.28 430.40,78.08 430.78,77.87 431.16,77.65 431.54,77.43 431.92,77.21 432.30,76.99 432.68,76.75 433.06,76.52 433.44,76.28 433.82,76.04 434.20,75.79 434.58,75.54 434.96,75.28 435.34,75.02 435.72,74.76 436.10,74.49 436.48,74.21 436.86,73.94 437.24,73.65 437.62,73.37 438.00,73.08 438.38,72.78 438.76,72.48 439.14,72.18 439.52,71.87 439.90,71.55 440.28,71.24 440.66,70.91 441.04,70.59 441.42,70.26 441.80,69.92 442.18,69.58 442.56,69.24 442.94,68.89 443.32,68.53 443.70,68.18 444.08,67.81 444.46,67.45 444.84,67.08 445.22,66.70 445.60,66.32 445.98,65.94 446.36,65.55 446.74,65.16 447.12,64.77 447.50,64.37 447.88,63.97 448.26,63.56 448.64,63.15 449.02,62.74 449.40,62.32 449.78,61.90 450.16,61.47 450.54,61.04 450.92,60.61 451.30,60.18 451.68,59.74 452.06,59.30 452.44,58.85 452.82,58.40 453.20,57.95 453.58,57.50 453.96,57.04 454.34,56.59 454.72,56.13 455.10,55.66 455.48,55.20 455.86,54.73 456.24,54.26 456.62,53.79 457.00,53.31 457.38,52.84 457.76,52.36 458.14,51.89 458.52,51.41 458.90,50.93 459.28,50.44 459.66,49.96 460.04,49.48 460.42,49.00 460.80,48.51 461.18,48.03 461.56,47.54 461.94,47.06 462.32,46.57 462.70,46.09 463.08,45.61 463.46,45.12 463.84,44.64 464.22,44.16 464.60,43.68 464.98,43.20 465.36,42.72 465.74,42.25 466.12,41.77 466.50,41.30 466.88,40.83 467.26,40.36 467.64,39.90 468.02,39.44 468.40,38.98 468.78,38.52 469.16,38.07 469.54,37.62 469.92,37.17 470.30,36.72 470.68,36.29 471.06,35.85 471.44,35.42 471.82,34.99 472.20,34.57 472.58,34.15 472.96,33.74 473.34,33.33 473.72,32.93 474.10,32.53 474.48,32.14 474.86,31.75 475.24,31.37 475.62,30.99 476.00,30.63 476.38,30.26 476.76,29.91 477.14,29.56 477.52,29.22 477.90,28.88 478.28,28.55 478.66,28.23 479.04,27.92 479.42,27.61 479.80,27.31 480.18,27.02 480.56,26.74 480.94,26.46 481.32,26.20 481.70,25.94 482.08,25.69 482.46,25.45 482.84,25.21 483.22,24.99 483.60,24.77 483.98,24.56 484.36,24.37 484.74,24.18 485.12,24.00 485.50,23.83 485.88,23.67 486.26,23.51 486.64,23.37 487.02,23.24 487.40,23.11 487.78,23.00 488.16,22.90 488.54,22.80 488.92,22.72 489.30,22.64 489.68,22.58 490.06,22.52 490.44,22.48 490.82,22.44 491.20,22.42 491.58,22.40 491.96,22.40 492.34,22.40 492.72,22.42 493.10,22.44 493.48,22.48 493.86,22.52 494.24,22.58 494.62,22.64 495.00,22.72 495.38,22.80 495.76,22.90 496.14,23.00 496.52,23.11 496.90,23.24 497.28,23.37 497.66,23.51 498.04,23.67 498.42,23.83 498.80,24.00 499.18,24.18 499.56,24.37 499.94,24.56 500.32,24.77 500.70,24.99 501.08,25.21 501.46,25.45 501.84,25.69 502.22,25.94 502.60,26.20 502.98,26.46 503.36,26.74 503.74,27.02 504.12,27.31 504.50,27.61 504.88,27.92 505.26,28.23 505.64,28.55 506.02,28.88 506.40,29.22 506.78,29.56 507.16,29.91 507.54,30.26 507.92,30.63 508.30,30.99 508.68,31.37 509.06,31.75 509.44,32.14 509.82,32.53 510.20,32.93 510.58,33.33 510.96,33.74 511.34,34.15 511.72,34.57 512.10,34.99 512.48,35.42 512.86,35.85 513.24,36.29 513.62,36.72 514.00,37.17 514.38,37.62 514.76,38.07 515.14,38.52 515.52,38.98 515.90,39.44 516.28,39.90 516.66,40.36 517.04,40.83 517.42,41.30 517.80,41.77 518.18,42.25 518.56,42.72 518.94,43.20 519.32,43.68 519.70,44.16 520.08,44.64 520.46,45.12 520.84,45.61 521.22,46.09 521.60,46.57 521.98,47.06 522.36,47.54 522.74,48.03 523.12,48.51 523.50,49.00 523.88,49.48 524.26,49.96 524.64,50.44 525.02,50.93 525.40,51.41" fill="none" stroke="#c8d5e7" stroke-width="1.45" stroke-linejoin="round" stroke-linecap="round" />
<polyline points="412.54,86.07 412.92,86.06 413.30,86.05 413.68,86.04 414.06,86.02 414.44,86.01 414.82,86.00 415.20,85.99 415.58,85.98 415.96,85.96 416.34,85.95 416.72,85.93 417.10,85.92 417.48,85.90 417.86,85.89 418.24,85.87 418.62,85.85 419.00,85.83 419.38,85.82 419.76,85.80 420.14,85.78 420.52,85.76 420.90,85.73 421.28,85.71 421.66,85.69 422.04,85.67 422.42,85.64 422.80,85.62 423.18,85.59 423.56,85.56 423.94,85.54 424.32,85.51 424.70,85.48 425.08,85.45 425.46,85.41 425.84,85.38 426.22,85.35 426.60,85.31 426.98,85.28 427.36,85.24 427.74,85.20 428.12,85.16 428.50,85.12 428.88,85.08 429.26,85.03 429.64,84.99 430.02,84.94 430.40,84.89 430.78,84.84 431.16,84.79 431.54,84.74 431.92,84.69 432.30,84.63 432.68,84.57 433.06,84.51 433.44,84.45 433.82,84.39 434.20,84.33 434.58,84.26 434.96,84.19 435.34,84.12 435.72,84.05 436.10,83.98 436.48,83.90 436.86,83.83 437.24,83.75 437.62,83.66 438.00,83.58 438.38,83.49 438.76,83.40 439.14,83.31 439.52,83.22 439.90,83.12 440.28,83.02 440.66,82.92 441.04,82.82 441.42,82.71 441.80,82.60 442.18,82.49 442.56,82.38 442.94,82.26 443.32,82.14 443.70,82.02 444.08,81.89 444.46,81.76 444.84,81.63 445.22,81.50 445.60,81.36 445.98,81.22 446.36,81.07 446.74,80.92 447.12,80.77 447.50,80.62 447.88,80.46 448.26,80.30 448.64,80.13 449.02,79.97 449.40,79.79 449.78,79.62 450.16,79.44 450.54,79.25 450.92,79.07 451.30,78.88 451.68,78.68 452.06,78.48 452.44,78.28 452.82,78.08 453.20,77.87 453.58,77.65 453.96,77.43 454.34,77.21 454.72,76.99 455.10,76.75 455.48,76.52 455.86,76.28 456.24,76.04 456.62,75.79 457.00,75.54 457.38,75.28 457.76,75.02 458.14,74.76 458.52,74.49 458.90,74.21 459.28,73.94 459.66,73.65 460.04,73.37 460.42,73.08 460.80,72.78 461.18,72.48 461.56,72.18 461.94,71.87 462.32,71.55 462.70,71.24 463.08,70.91 463.46,70.59 463.84,70.26 464.22,69.92 464.60,69.58 464.98,69.24 465.36,68.89 465.74,68.53 466.12,68.18 466.50,67.81 466.88,67.45 467.26,67.08 467.64,66.70 468.02,66.32 468.40,65.94 468.78,65.55 469.16,65.16 469.54,64.77 469.92,64.37 470.30,63.97 470.68,63.56 471.06,63.15 471.44,62.74 471.82,62.32 472.20,61.90 472.58,61.47 472.96,61.04 473.34,60.61 473.72,60.18 474.10,59.74 474.48,59.30 474.86,58.85 475.24,58.40 475.62,57.95 476.00,57.50 476.38,57.04 476.76,56.59 477.14,56.13 477.52,55.66 477.90,55.20 478.28,54.73 478.66,54.26 479.04,53.79 479.42,53.31 479.80,52.84 480.18,52.36 480.56,51.89 480.94,51.41 481.32,50.93 481.70,50.44 482.08,49.96 482.46,49.48 482.84,49.00 483.22,48.51 483.60,48.03 483.98,47.54 484.36,47.06 484.74,46.57 485.12,46.09 485.50,45.61 485.88,45.12 486.26,44.64 486.64,44.16 487.02,43.68 487.40,43.20 487.78,42.72 488.16,42.25 488.54,41.77 488.92,41.30 489.30,40.83 489.68,40.36 490.06,39.90 490.44,39.44 490.82,38.98 491.20,38.52 491.58,38.07 491.96,37.62 492.34,37.17 492.72,36.72 493.10,36.29 493.48,35.85 493.86,35.42 494.24,34.99 494.62,34.57 495.00,34.15 495.38,33.74 495.76,33.33 496.14,32.93 496.52,32.53 496.90,32.14 497.28,31.75 497.66,31.37 498.04,30.99 498.42,30.63 498.80,30.26 499.18,29.91 499.56,29.56 499.94,29.22 500.32,28.88 500.70,28.55 501.08,28.23 501.46,27.92 501.84,27.61 502.22,27.31 502.60,27.02 502.98,26.74 503.36,26.46 503.74,26.20 504.12,25.94 504.50,25.69 504.88,25.45 505.26,25.21 505.64,24.99 506.02,24.77 506.40,24.56 506.78,24.37 507.16,24.18 507.54,24.00 507.92,23.83 508.30,23.67 508.68,23.51 509.06,23.37 509.44,23.24 509.82,23.11 510.20,23.00 510.58,22.90 510.96,22.80 511.34,22.72 511.72,22.64 512.10,22.58 512.48,22.52 512.86,22.48 513.24,22.44 513.62,22.42 514.00,22.40 514.38,22.40 514.76,22.40 515.14,22.42 515.52,22.44 515.90,22.48 516.28,22.52 516.66,22.58 517.04,22.64 517.42,22.72 517.80,22.80 518.18,22.90 518.56,23.00 518.94,23.11 519.32,23.24 519.70,23.37 520.08,23.51 520.46,23.67 520.84,23.83 521.22,24.00 521.60,24.18 521.98,24.37 522.36,24.56 522.74,24.77 523.12,24.99 523.50,25.21 523.88,25.45 524.26,25.69 524.64,25.94 525.02,26.20 525.40,26.46" fill="none" stroke="#c8d5e7" stroke-width="1.45" stroke-linejoin="round" stroke-linecap="round" />
<polyline points="412.54,75.18 412.92,74.92 413.30,74.65 413.68,74.38 414.06,74.10 414.44,73.82 414.82,73.54 415.20,73.25 415.58,72.96 415.96,72.66 416.34,72.36 416.72,72.05 417.10,71.74 417.48,71.43 417.86,71.11 418.24,70.78 418.62,70.45 419.00,70.12 419.38,69.78 419.76,69.44 420.14,69.10 420.52,68.75 420.90,68.39 421.28,68.03 421.66,67.67 422.04,67.30 422.42,66.93 422.80,66.55 423.18,66.17 423.56,65.79 423.94,65.40 424.32,65.01 424.70,64.61 425.08,64.21 425.46,63.80 425.84,63.40 426.22,62.98 426.60,62.57 426.98,62.15 427.36,61.73 427.74,61.30 428.12,60.87 428.50,60.44 428.88,60.00 429.26,59.56 429.64,59.12 430.02,58.67 430.40,58.22 430.78,57.77 431.16,57.32 431.54,56.86 431.92,56.40 432.30,55.94 432.68,55.48 433.06,55.01 433.44,54.54 433.82,54.07 434.20,53.60 434.58,53.12 434.96,52.65 435.34,52.17 435.72,51.69 436.10,51.21 436.48,50.73 436.86,50.25 437.24,49.77 437.62,49.29 438.00,48.80 438.38,48.32 438.76,47.83 439.14,47.35 439.52,46.86 439.90,46.38 440.28,45.90 440.66,45.41 441.04,44.93 441.42,44.45 441.80,43.97 442.18,43.49 442.56,43.01 442.94,42.53 443.32,42.06 443.70,41.59 444.08,41.11 444.46,40.64 444.84,40.18 445.22,39.71 445.60,39.25 445.98,38.79 446.36,38.34 446.74,37.89 447.12,37.44 447.50,36.99 447.88,36.55 448.26,36.11 448.64,35.68 449.02,35.25 449.40,34.82 449.78,34.40 450.16,33.98 450.54,33.57 450.92,33.17 451.30,32.77 451.68,32.37 452.06,31.98 452.44,31.60 452.82,31.22 453.20,30.85 453.58,30.48 453.96,30.12 454.34,29.77 454.72,29.42 455.10,29.08 455.48,28.75 455.86,28.42 456.24,28.11 456.62,27.79 457.00,27.49 457.38,27.20 457.76,26.91 458.14,26.63 458.52,26.36 458.90,26.09 459.28,25.84 459.66,25.59 460.04,25.35 460.42,25.12 460.80,24.90 461.18,24.69 461.56,24.48 461.94,24.29 462.32,24.10 462.70,23.93 463.08,23.76 463.46,23.60 463.84,23.46 464.22,23.32 464.60,23.19 464.98,23.07 465.36,22.96 465.74,22.86 466.12,22.77 466.50,22.69 466.88,22.62 467.26,22.56 467.64,22.51 468.02,22.46 468.40,22.43 468.78,22.41 469.16,22.40 469.54,22.40 469.92,22.41 470.30,22.43 470.68,22.46 471.06,22.50 471.44,22.55 471.82,22.60 472.20,22.67 472.58,22.75 472.96,22.84 473.34,22.94 473.72,23.05 474.10,23.16 474.48,23.29 474.86,23.43 475.24,23.57 475.62,23.73 476.00,23.89 476.38,24.07 476.76,24.25 477.14,24.44 477.52,24.65 477.90,24.86 478.28,25.08 478.66,25.30 479.04,25.54 479.42,25.79 479.80,26.04 480.18,26.30 480.56,26.57 480.94,26.85 481.32,27.14 481.70,27.43 482.08,27.73 482.46,28.04 482.84,28.36 483.22,28.68 483.60,29.01 483.98,29.35 484.36,29.70 484.74,30.05 485.12,30.41 485.50,30.77 485.88,31.14 486.26,31.52 486.64,31.90 487.02,32.29 487.40,32.69 487.78,33.09 488.16,33.49 488.54,33.90 488.92,34.32 489.30,34.74 489.68,35.16 490.06,35.59 490.44,36.02 490.82,36.46 491.20,36.90 491.58,37.35 491.96,37.80 492.34,38.25 492.72,38.70 493.10,39.16 493.48,39.62 493.86,40.08 494.24,40.55 494.62,41.02 495.00,41.49 495.38,41.96 495.76,42.44 496.14,42.91 496.52,43.39 496.90,43.87 497.28,44.35 497.66,44.83 498.04,45.32 498.42,45.80 498.80,46.28 499.18,46.77 499.56,47.25 499.94,47.74 500.32,48.22 500.70,48.71 501.08,49.19 501.46,49.67 501.84,50.15 502.22,50.64 502.60,51.12 502.98,51.60 503.36,52.08 503.74,52.55 504.12,53.03 504.50,53.50 504.88,53.98 505.26,54.45 505.64,54.92 506.02,55.38 506.40,55.85 506.78,56.31 507.16,56.77 507.54,57.23 507.92,57.68 508.30,58.13 508.68,58.58 509.06,59.03 509.44,59.47 509.82,59.91 510.20,60.35 510.58,60.78 510.96,61.21 511.34,61.64 511.72,62.07 512.10,62.49 512.48,62.90 512.86,63.31 513.24,63.72 513.62,64.13 514.00,64.53 514.38,64.93 514.76,65.32 515.14,65.71 515.52,66.10 515.90,66.48 516.28,66.85 516.66,67.23 517.04,67.59 517.42,67.96 517.80,68.32 518.18,68.68 518.56,69.03 518.94,69.37 519.32,69.72 519.70,70.05 520.08,70.39 520.46,70.72 520.84,71.04 521.22,71.36 521.60,71.68 521.98,71.99 522.36,72.30 522.74,72.60 523.12,72.90 523.50,73.19 523.88,73.48 524.26,73.77 524.64,74.05 525.02,74.32 525.40,74.60" fill="none" stroke="#4f74a8" stroke-width="1.45" stroke-linejoin="round" stroke-linecap="round" />
<line x1="315.38280000000003" y1="21.6" x2="315.38280000000003" y2="86.5" stroke="#1a1a1a" stroke-width="1.05" stroke-dasharray="4.7,2.1"/>
<line x1="469.388" y1="21.6" x2="469.388" y2="86.5" stroke="#1a1a1a" stroke-width="1.05" stroke-dasharray="4.7,2.1"/>
<line x1="623.3879999999999" y1="21.6" x2="623.3879999999999" y2="86.5" stroke="#1a1a1a" stroke-width="1.05" stroke-dasharray="4.7,2.1"/>
<line x1="578.3199999999999" y1="86.1" x2="578.3199999999999" y2="22.1" stroke="#cfdbea" stroke-width="1.5" stroke-dasharray="4.5,2.6"/>
<line x1="600.74" y1="86.1" x2="600.74" y2="22.1" stroke="#cfdbea" stroke-width="1.5" stroke-dasharray="4.5,2.6"/>
<line x1="645.96" y1="86.1" x2="645.96" y2="22.1" stroke="#cfdbea" stroke-width="1.5" stroke-dasharray="4.5,2.6"/>
<line x1="668.38" y1="86.1" x2="668.38" y2="22.1" stroke="#cfdbea" stroke-width="1.5" stroke-dasharray="4.5,2.6"/>
<line x1="566.54" y1="86.3" x2="623.3879999999999" y2="86.3" stroke="#3a78c8" stroke-width="1.6" />
<line x1="623.3879999999999" y1="22.4" x2="679.4" y2="22.4" stroke="#b84a58" stroke-width="1.6" />
<line x1="297.5" y1="52.2" x2="334.7" y2="52.2" stroke="#262626" stroke-width="1.25" />
<path d="M295.0,52.2 L299.0,50.2 L299.0,54.2 Z" fill="#262626"/>
<path d="M337.2,52.2 L333.2,50.2 L333.2,54.2 Z" fill="#262626"/>
<line x1="452.3" y1="21.6" x2="488.7" y2="21.6" stroke="#262626" stroke-width="1.25" />
<path d="M449.8,21.6 L453.8,19.6 L453.8,23.6 Z" fill="#262626"/>
<path d="M491.2,21.6 L487.2,19.6 L487.2,23.6 Z" fill="#262626"/>
<line x1="606.1" y1="52.2" x2="643.0" y2="52.2" stroke="#262626" stroke-width="1.25" />
<path d="M603.6,52.2 L607.6,50.2 L607.6,54.2 Z" fill="#262626"/>
<path d="M645.5,52.2 L641.5,50.2 L641.5,54.2 Z" fill="#262626"/>
<text x="312.4" y="16.8" font-size="8.1" fill="#262626"><tspan font-style="italic">T</tspan><tspan font-size="7" dy="2.5">0</tspan></text>
<text x="465.9" y="16.6" font-size="8.1" fill="#262626"><tspan font-style="italic">T</tspan><tspan font-size="7" dy="2.5">0</tspan></text>
<text x="620.2" y="17.5" font-size="8.1" fill="#262626"><tspan font-style="italic">T</tspan><tspan font-size="7" dy="2.5">0</tspan></text>
<text transform="translate(241.5,54) rotate(-90)" text-anchor="middle" font-size="8.5" fill="#262626"><tspan font-style="italic">y</tspan><tspan font-size="6.4" dy="1.7">activation</tspan></text>
<text transform="translate(395.5,54) rotate(-90)" text-anchor="middle" font-size="8.5" fill="#262626"><tspan font-style="italic">y</tspan><tspan font-size="6.4" dy="1.7">tuning</tspan></text>
<text transform="translate(549.5,51.6) rotate(-90)" text-anchor="middle" font-size="8.5" fill="#262626"><tspan font-style="italic">y</tspan><tspan font-size="6.4" dy="1.7">threshold</tspan></text>
<line x1="253.72" y1="144.8" x2="253.72" y2="215.5" stroke="#999999" stroke-width="1" />
<line x1="253.0" y1="215.5" x2="376.5" y2="215.5" stroke="#999999" stroke-width="1" />
<line x1="249.9" y1="150.5" x2="253.5" y2="150.5" stroke="#6e6e6e" stroke-width="0.9" />
<line x1="249.9" y1="209.5" x2="253.5" y2="209.5" stroke="#6e6e6e" stroke-width="0.9" />
<path d="M246.70,147.55 V153.15 M244.70,148.95 Q246.10,148.60 246.70,147.55" fill="none" stroke="#3a3a3a" stroke-width="0.95"/>
<text x="244.8" y="212.5" font-size="8" text-anchor="middle" fill="#262626" font-weight="normal" font-style="normal" >0</text>
<line x1="276.5" y1="215.5" x2="276.5" y2="219.0" stroke="#6e6e6e" stroke-width="0.9" />
<text x="276.6" y="227.9" font-size="8" text-anchor="middle" fill="#262626" font-weight="normal" font-style="normal" textLength="9.3" lengthAdjust="spacingAndGlyphs" >30</text>
<line x1="314.5" y1="215.5" x2="314.5" y2="219.0" stroke="#6e6e6e" stroke-width="0.9" />
<text x="314.40000000000003" y="227.9" font-size="8" text-anchor="middle" fill="#262626" font-weight="normal" font-style="normal" textLength="9.3" lengthAdjust="spacingAndGlyphs" >40</text>
<line x1="352.5" y1="215.5" x2="352.5" y2="219.0" stroke="#6e6e6e" stroke-width="0.9" />
<text x="352.20000000000005" y="227.9" font-size="8" text-anchor="middle" fill="#262626" font-weight="normal" font-style="normal" textLength="9.3" lengthAdjust="spacingAndGlyphs" >50</text>
<text x="304.8" y="241.8" font-size="8.3" fill="#262626"><tspan font-style="italic">T</tspan> (°C)</text>
<text transform="translate(241.5,180) rotate(-90)" text-anchor="middle" font-size="8.5" fill="#262626"><tspan font-style="italic">y</tspan><tspan font-size="6.4" dy="1.7">pred</tspan></text>
<line x1="407.72" y1="144.8" x2="407.72" y2="215.5" stroke="#999999" stroke-width="1" />
<line x1="407.0" y1="215.5" x2="530.5" y2="215.5" stroke="#999999" stroke-width="1" />
<line x1="403.9" y1="150.5" x2="407.5" y2="150.5" stroke="#6e6e6e" stroke-width="0.9" />
<line x1="403.9" y1="209.5" x2="407.5" y2="209.5" stroke="#6e6e6e" stroke-width="0.9" />
<path d="M400.80,147.55 V153.15 M398.80,148.95 Q400.20,148.60 400.80,147.55" fill="none" stroke="#3a3a3a" stroke-width="0.95"/>
<text x="398.9" y="212.5" font-size="8" text-anchor="middle" fill="#262626" font-weight="normal" font-style="normal" >0</text>
<line x1="430.5" y1="215.5" x2="430.5" y2="219.0" stroke="#6e6e6e" stroke-width="0.9" />
<text x="430.4" y="227.9" font-size="8" text-anchor="middle" fill="#262626" font-weight="normal" font-style="normal" textLength="9.3" lengthAdjust="spacingAndGlyphs" >30</text>
<line x1="468.5" y1="215.5" x2="468.5" y2="219.0" stroke="#6e6e6e" stroke-width="0.9" />
<text x="468.4" y="227.9" font-size="8" text-anchor="middle" fill="#262626" font-weight="normal" font-style="normal" textLength="9.3" lengthAdjust="spacingAndGlyphs" >40</text>
<line x1="506.5" y1="215.5" x2="506.5" y2="219.0" stroke="#6e6e6e" stroke-width="0.9" />
<text x="506.4" y="227.9" font-size="8" text-anchor="middle" fill="#262626" font-weight="normal" font-style="normal" textLength="9.3" lengthAdjust="spacingAndGlyphs" >50</text>
<text x="458.8" y="241.8" font-size="8.3" fill="#262626"><tspan font-style="italic">T</tspan> (°C)</text>
<text transform="translate(395.59999999999997,180) rotate(-90)" text-anchor="middle" font-size="8.5" fill="#262626"><tspan font-style="italic">y</tspan><tspan font-size="6.4" dy="1.7">pred</tspan></text>
<line x1="561.72" y1="144.8" x2="561.72" y2="215.5" stroke="#999999" stroke-width="1" />
<line x1="561.0" y1="215.5" x2="685" y2="215.5" stroke="#999999" stroke-width="1" />
<line x1="557.9" y1="150.5" x2="561.5" y2="150.5" stroke="#6e6e6e" stroke-width="0.9" />
<line x1="557.9" y1="209.5" x2="561.5" y2="209.5" stroke="#6e6e6e" stroke-width="0.9" />
<path d="M554.80,147.55 V153.15 M552.80,148.95 Q554.20,148.60 554.80,147.55" fill="none" stroke="#3a3a3a" stroke-width="0.95"/>
<text x="552.9" y="212.5" font-size="8" text-anchor="middle" fill="#262626" font-weight="normal" font-style="normal" >0</text>
<line x1="584.5" y1="215.5" x2="584.5" y2="219.0" stroke="#6e6e6e" stroke-width="0.9" />
<text x="584.4" y="227.9" font-size="8" text-anchor="middle" fill="#262626" font-weight="normal" font-style="normal" textLength="9.3" lengthAdjust="spacingAndGlyphs" >30</text>
<line x1="622.5" y1="215.5" x2="622.5" y2="219.0" stroke="#6e6e6e" stroke-width="0.9" />
<text x="622.4" y="227.9" font-size="8" text-anchor="middle" fill="#262626" font-weight="normal" font-style="normal" textLength="9.3" lengthAdjust="spacingAndGlyphs" >40</text>
<line x1="660.5" y1="215.5" x2="660.5" y2="219.0" stroke="#6e6e6e" stroke-width="0.9" />
<text x="660.4" y="227.9" font-size="8" text-anchor="middle" fill="#262626" font-weight="normal" font-style="normal" textLength="9.3" lengthAdjust="spacingAndGlyphs" >50</text>
<text x="612.8" y="241.8" font-size="8.3" fill="#262626"><tspan font-style="italic">T</tspan> (°C)</text>
<text transform="translate(549.6,180) rotate(-90)" text-anchor="middle" font-size="8.5" fill="#262626"><tspan font-style="italic">y</tspan><tspan font-size="6.4" dy="1.7">pred</tspan></text>
<circle cx="259.3" cy="205.3" r="1.7" fill="#b487b4"/>
<circle cx="259.3" cy="211.6" r="1.7" fill="#b487b4"/>
<circle cx="259.3" cy="214.0" r="1.7" fill="#b487b4"/>
<circle cx="265.2" cy="206.3" r="1.7" fill="#b487b4"/>
<circle cx="265.2" cy="207.9" r="1.7" fill="#b487b4"/>
<circle cx="265.2" cy="211.6" r="1.7" fill="#b487b4"/>
<circle cx="270.6" cy="207.9" r="1.7" fill="#b487b4"/>
<circle cx="270.6" cy="214.0" r="1.7" fill="#b487b4"/>
<circle cx="276.5" cy="201.8" r="1.7" fill="#b487b4"/>
<circle cx="276.5" cy="206" r="1.7" fill="#b487b4"/>
<circle cx="276.5" cy="207.9" r="1.7" fill="#b487b4"/>
<circle cx="276.5" cy="209.9" r="1.7" fill="#b487b4"/>
<circle cx="276.5" cy="211.8" r="1.7" fill="#b487b4"/>
<circle cx="276.5" cy="213.8" r="1.7" fill="#b487b4"/>
<circle cx="282" cy="195.8" r="1.7" fill="#b487b4"/>
<circle cx="282" cy="203.7" r="1.7" fill="#b487b4"/>
<circle cx="282" cy="206" r="1.7" fill="#b487b4"/>
<circle cx="287.6" cy="202.4" r="1.7" fill="#b487b4"/>
<circle cx="287.6" cy="205" r="1.7" fill="#b487b4"/>
<circle cx="287.6" cy="207.9" r="1.7" fill="#b487b4"/>
<circle cx="293.5" cy="197.2" r="1.7" fill="#b487b4"/>
<circle cx="293.5" cy="199" r="1.7" fill="#b487b4"/>
<circle cx="299" cy="192.2" r="1.7" fill="#b487b4"/>
<circle cx="299" cy="194.2" r="1.7" fill="#b487b4"/>
<circle cx="299" cy="196.1" r="1.7" fill="#b487b4"/>
<circle cx="299" cy="197.5" r="1.7" fill="#b487b4"/>
<circle cx="305" cy="186.2" r="1.7" fill="#b487b4"/>
<circle cx="305" cy="191.5" r="1.7" fill="#b487b4"/>
<circle cx="310.5" cy="151.7" r="1.7" fill="#b487b4"/>
<circle cx="310.5" cy="178" r="1.7" fill="#b487b4"/>
<circle cx="310.5" cy="185.5" r="1.7" fill="#b487b4"/>
<circle cx="316.2" cy="176.2" r="1.7" fill="#b487b4"/>
<circle cx="316.2" cy="178" r="1.7" fill="#b487b4"/>
<circle cx="316.2" cy="181.8" r="1.7" fill="#b487b4"/>
<circle cx="322" cy="168.7" r="1.7" fill="#b487b4"/>
<circle cx="322" cy="172.7" r="1.7" fill="#b487b4"/>
<circle cx="322" cy="175" r="1.7" fill="#b487b4"/>
<circle cx="322" cy="177" r="1.7" fill="#b487b4"/>
<circle cx="327.5" cy="168.7" r="1.7" fill="#b487b4"/>
<circle cx="327.5" cy="170.8" r="1.7" fill="#b487b4"/>
<circle cx="327.5" cy="175.7" r="1.7" fill="#b487b4"/>
<circle cx="333.2" cy="161.5" r="1.7" fill="#b487b4"/>
<circle cx="333.2" cy="164.5" r="1.7" fill="#b487b4"/>
<circle cx="333.2" cy="166.7" r="1.7" fill="#b487b4"/>
<circle cx="333.2" cy="169" r="1.7" fill="#b487b4"/>
<circle cx="339" cy="157" r="1.7" fill="#b487b4"/>
<circle cx="339" cy="158.5" r="1.7" fill="#b487b4"/>
<circle cx="339" cy="166.7" r="1.7" fill="#b487b4"/>
<circle cx="344.5" cy="150.2" r="1.7" fill="#b487b4"/>
<circle cx="344.5" cy="153.2" r="1.7" fill="#b487b4"/>
<circle cx="344.5" cy="158.5" r="1.7" fill="#b487b4"/>
<circle cx="350.3" cy="146.8" r="1.7" fill="#b487b4"/>
<circle cx="350.3" cy="148.3" r="1.7" fill="#b487b4"/>
<circle cx="350.3" cy="151.7" r="1.7" fill="#b487b4"/>
<circle cx="356" cy="145.7" r="1.7" fill="#b487b4"/>
<circle cx="356" cy="147.7" r="1.7" fill="#b487b4"/>
<circle cx="356" cy="150.2" r="1.7" fill="#b487b4"/>
<circle cx="361.5" cy="145.7" r="1.7" fill="#b487b4"/>
<circle cx="361.5" cy="147.7" r="1.7" fill="#b487b4"/>
<circle cx="361.5" cy="149.5" r="1.7" fill="#b487b4"/>
<circle cx="367.2" cy="147.2" r="1.7" fill="#b487b4"/>
<circle cx="367.2" cy="149.5" r="1.7" fill="#b487b4"/>
<circle cx="367.2" cy="152.5" r="1.7" fill="#b487b4"/>
<circle cx="367.2" cy="159.2" r="1.7" fill="#b487b4"/>
<circle cx="371" cy="148.7" r="1.7" fill="#b487b4"/>
<circle cx="371" cy="151" r="1.7" fill="#b487b4"/>
<circle cx="371" cy="156.7" r="1.7" fill="#b487b4"/>
<circle cx="413.2" cy="205" r="1.7" fill="#b487b4"/>
<circle cx="413.2" cy="207.5" r="1.7" fill="#b487b4"/>
<circle cx="413.2" cy="210" r="1.7" fill="#b487b4"/>
<circle cx="419.3" cy="192.8" r="1.7" fill="#b487b4"/>
<circle cx="419.3" cy="195.2" r="1.7" fill="#b487b4"/>
<circle cx="419.3" cy="198.3" r="1.7" fill="#b487b4"/>
<circle cx="419.3" cy="202.4" r="1.7" fill="#b487b4"/>
<circle cx="424.8" cy="180.9" r="1.7" fill="#b487b4"/>
<circle cx="424.8" cy="193.6" r="1.7" fill="#b487b4"/>
<circle cx="424.8" cy="196.2" r="1.7" fill="#b487b4"/>
<circle cx="430.6" cy="175.8" r="1.7" fill="#b487b4"/>
<circle cx="430.6" cy="177.8" r="1.7" fill="#b487b4"/>
<circle cx="430.6" cy="183" r="1.7" fill="#b487b4"/>
<circle cx="430.6" cy="189" r="1.7" fill="#b487b4"/>
<circle cx="436.1" cy="162.5" r="1.7" fill="#b487b4"/>
<circle cx="436.1" cy="164.5" r="1.7" fill="#b487b4"/>
<circle cx="436.1" cy="166.6" r="1.7" fill="#b487b4"/>
<circle cx="436.1" cy="178.9" r="1.7" fill="#b487b4"/>
<circle cx="441.8" cy="169.2" r="1.7" fill="#b487b4"/>
<circle cx="441.8" cy="171.7" r="1.7" fill="#b487b4"/>
<circle cx="441.8" cy="175.8" r="1.7" fill="#b487b4"/>
<circle cx="447.5" cy="160" r="1.7" fill="#b487b4"/>
<circle cx="447.5" cy="164.5" r="1.7" fill="#b487b4"/>
<circle cx="447.5" cy="166.6" r="1.7" fill="#b487b4"/>
<circle cx="447.5" cy="173.7" r="1.7" fill="#b487b4"/>
<circle cx="453.5" cy="161.5" r="1.7" fill="#b487b4"/>
<circle cx="453.5" cy="164.5" r="1.7" fill="#b487b4"/>
<circle cx="453.5" cy="166.6" r="1.7" fill="#b487b4"/>
<circle cx="458.8" cy="158.4" r="1.7" fill="#b487b4"/>
<circle cx="458.8" cy="163.5" r="1.7" fill="#b487b4"/>
<circle cx="458.8" cy="166.6" r="1.7" fill="#b487b4"/>
<circle cx="464.4" cy="162.5" r="1.7" fill="#b487b4"/>
<circle cx="464.4" cy="164.5" r="1.7" fill="#b487b4"/>
<circle cx="464.4" cy="166.6" r="1.7" fill="#b487b4"/>
<circle cx="470.1" cy="156.2" r="1.7" fill="#b487b4"/>
<circle cx="470.1" cy="158.4" r="1.7" fill="#b487b4"/>
<circle cx="470.1" cy="160.4" r="1.7" fill="#b487b4"/>
<circle cx="475.7" cy="143.1" r="1.7" fill="#b487b4"/>
<circle cx="475.7" cy="155.3" r="1.7" fill="#b487b4"/>
<circle cx="475.7" cy="159.4" r="1.7" fill="#b487b4"/>
<circle cx="475.7" cy="162.1" r="1.7" fill="#b487b4"/>
<circle cx="481.5" cy="154.3" r="1.7" fill="#b487b4"/>
<circle cx="481.5" cy="165.5" r="1.7" fill="#b487b4"/>
<circle cx="481.5" cy="167.2" r="1.7" fill="#b487b4"/>
<circle cx="487.2" cy="163.5" r="1.7" fill="#b487b4"/>
<circle cx="487.2" cy="165.5" r="1.7" fill="#b487b4"/>
<circle cx="487.2" cy="167.6" r="1.7" fill="#b487b4"/>
<circle cx="492.7" cy="162.1" r="1.7" fill="#b487b4"/>
<circle cx="492.7" cy="166.2" r="1.7" fill="#b487b4"/>
<circle cx="492.7" cy="171.7" r="1.7" fill="#b487b4"/>
<circle cx="498.4" cy="165" r="1.7" fill="#b487b4"/>
<circle cx="498.4" cy="172.3" r="1.7" fill="#b487b4"/>
<circle cx="498.4" cy="174.3" r="1.7" fill="#b487b4"/>
<circle cx="503.9" cy="172.7" r="1.7" fill="#b487b4"/>
<circle cx="503.9" cy="175.8" r="1.7" fill="#b487b4"/>
<circle cx="503.9" cy="185" r="1.7" fill="#b487b4"/>
<circle cx="510" cy="179.2" r="1.7" fill="#b487b4"/>
<circle cx="510" cy="181.5" r="1.7" fill="#b487b4"/>
<circle cx="515.6" cy="188" r="1.7" fill="#b487b4"/>
<circle cx="515.6" cy="190.1" r="1.7" fill="#b487b4"/>
<circle cx="515.6" cy="196.8" r="1.7" fill="#b487b4"/>
<circle cx="520.9" cy="193.1" r="1.7" fill="#b487b4"/>
<circle cx="520.9" cy="198.9" r="1.7" fill="#b487b4"/>
<circle cx="520.9" cy="200.3" r="1.7" fill="#b487b4"/>
<circle cx="525.4" cy="192.1" r="1.7" fill="#b487b4"/>
<circle cx="525.4" cy="196.2" r="1.7" fill="#b487b4"/>
<circle cx="525.4" cy="202.3" r="1.7" fill="#b487b4"/>
<polyline points="258.83,209.48 259.21,209.47 259.59,209.46 259.97,209.45 260.35,209.44 260.72,209.43 261.10,209.42 261.48,209.41 261.86,209.40 262.24,209.39 262.61,209.38 262.99,209.37 263.37,209.36 263.75,209.34 264.13,209.33 264.50,209.32 264.88,209.30 265.26,209.29 265.64,209.27 266.02,209.26 266.39,209.24 266.77,209.22 267.15,209.20 267.53,209.19 267.91,209.17 268.28,209.15 268.66,209.13 269.04,209.10 269.42,209.08 269.80,209.06 270.17,209.04 270.55,209.01 270.93,208.98 271.31,208.96 271.69,208.93 272.06,208.90 272.44,208.87 272.82,208.84 273.20,208.81 273.58,208.78 273.95,208.74 274.33,208.71 274.71,208.67 275.09,208.63 275.47,208.59 275.84,208.55 276.22,208.51 276.60,208.46 276.98,208.42 277.36,208.37 277.73,208.32 278.11,208.27 278.49,208.22 278.87,208.17 279.25,208.11 279.62,208.05 280.00,207.99 280.38,207.93 280.76,207.86 281.14,207.80 281.51,207.73 281.89,207.65 282.27,207.58 282.65,207.50 283.03,207.42 283.40,207.34 283.78,207.25 284.16,207.17 284.54,207.08 284.92,206.98 285.29,206.88 285.67,206.78 286.05,206.68 286.43,206.57 286.81,206.46 287.18,206.34 287.56,206.22 287.94,206.10 288.32,205.97 288.70,205.84 289.07,205.71 289.45,205.56 289.83,205.42 290.21,205.27 290.59,205.12 290.96,204.96 291.34,204.79 291.72,204.62 292.10,204.45 292.48,204.27 292.85,204.08 293.23,203.89 293.61,203.70 293.99,203.49 294.37,203.28 294.74,203.07 295.12,202.85 295.50,202.62 295.88,202.39 296.26,202.14 296.63,201.90 297.01,201.64 297.39,201.38 297.77,201.11 298.15,200.84 298.52,200.55 298.90,200.26 299.28,199.97 299.66,199.66 300.04,199.35 300.41,199.03 300.79,198.70 301.17,198.36 301.55,198.02 301.93,197.67 302.30,197.31 302.68,196.94 303.06,196.57 303.44,196.18 303.82,195.79 304.19,195.39 304.57,194.99 304.95,194.58 305.33,194.15 305.71,193.72 306.08,193.29 306.46,192.85 306.84,192.39 307.22,191.94 307.60,191.47 307.97,191.00 308.35,190.52 308.73,190.04 309.11,189.55 309.49,189.05 309.86,188.55 310.24,188.04 310.62,187.53 311.00,187.02 311.38,186.49 311.75,185.97 312.13,185.44 312.51,184.90 312.89,184.37 313.27,183.83 313.64,183.29 314.02,182.74 314.40,182.20 314.78,181.65 315.16,181.10 315.53,180.55 315.91,180.00 316.29,179.45 316.67,178.90 317.05,178.35 317.42,177.80 317.80,177.26 318.18,176.71 318.56,176.17 318.94,175.63 319.31,175.10 319.69,174.56 320.07,174.03 320.45,173.51 320.83,172.98 321.20,172.47 321.58,171.96 321.96,171.45 322.34,170.95 322.72,170.45 323.09,169.96 323.47,169.48 323.85,169.00 324.23,168.53 324.61,168.06 324.98,167.61 325.36,167.15 325.74,166.71 326.12,166.28 326.50,165.85 326.87,165.42 327.25,165.01 327.63,164.61 328.01,164.21 328.39,163.82 328.76,163.43 329.14,163.06 329.52,162.69 329.90,162.33 330.28,161.98 330.65,161.64 331.03,161.30 331.41,160.97 331.79,160.65 332.17,160.34 332.54,160.03 332.92,159.74 333.30,159.45 333.68,159.16 334.06,158.89 334.43,158.62 334.81,158.36 335.19,158.10 335.57,157.86 335.95,157.61 336.32,157.38 336.70,157.15 337.08,156.93 337.46,156.72 337.84,156.51 338.21,156.30 338.59,156.11 338.97,155.92 339.35,155.73 339.73,155.55 340.10,155.38 340.48,155.21 340.86,155.04 341.24,154.88 341.62,154.73 341.99,154.58 342.37,154.44 342.75,154.29 343.13,154.16 343.51,154.03 343.88,153.90 344.26,153.78 344.64,153.66 345.02,153.54 345.40,153.43 345.77,153.32 346.15,153.22 346.53,153.12 346.91,153.02 347.29,152.92 347.66,152.83 348.04,152.75 348.42,152.66 348.80,152.58 349.18,152.50 349.55,152.42 349.93,152.35 350.31,152.27 350.69,152.20 351.07,152.14 351.44,152.07 351.82,152.01 352.20,151.95 352.58,151.89 352.96,151.83 353.33,151.78 353.71,151.73 354.09,151.68 354.47,151.63 354.85,151.58 355.22,151.54 355.60,151.49 355.98,151.45 356.36,151.41 356.74,151.37 357.11,151.33 357.49,151.29 357.87,151.26 358.25,151.22 358.63,151.19 359.00,151.16 359.38,151.13 359.76,151.10 360.14,151.07 360.52,151.04 360.89,151.02 361.27,150.99 361.65,150.96 362.03,150.94 362.41,150.92 362.78,150.90 363.16,150.87 363.54,150.85 363.92,150.83 364.30,150.81 364.67,150.80 365.05,150.78 365.43,150.76 365.81,150.74 366.19,150.73 366.56,150.71 366.94,150.70 367.32,150.68 367.70,150.67 368.08,150.66 368.45,150.64 368.83,150.63 369.21,150.62 369.59,150.61 369.97,150.60 370.34,150.59 370.72,150.58 371.10,150.57" fill="none" stroke="#111" stroke-width="1.3" stroke-linejoin="round" stroke-linecap="round" />
<polyline points="412.54,198.99 412.92,198.74 413.30,198.49 413.68,198.23 414.06,197.97 414.44,197.71 414.82,197.44 415.20,197.17 415.58,196.89 415.96,196.61 416.34,196.32 416.72,196.03 417.10,195.74 417.48,195.44 417.86,195.14 418.24,194.84 418.62,194.53 419.00,194.21 419.38,193.90 419.76,193.58 420.14,193.25 420.52,192.92 420.90,192.59 421.28,192.25 421.66,191.91 422.04,191.56 422.42,191.21 422.80,190.86 423.18,190.51 423.56,190.15 423.94,189.78 424.32,189.41 424.70,189.04 425.08,188.67 425.46,188.29 425.84,187.91 426.22,187.52 426.60,187.13 426.98,186.74 427.36,186.35 427.74,185.95 428.12,185.55 428.50,185.14 428.88,184.74 429.26,184.33 429.64,183.92 430.02,183.50 430.40,183.08 430.78,182.66 431.16,182.24 431.54,181.82 431.92,181.39 432.30,180.96 432.68,180.53 433.06,180.09 433.44,179.66 433.82,179.22 434.20,178.79 434.58,178.35 434.96,177.90 435.34,177.46 435.72,177.02 436.10,176.57 436.48,176.13 436.86,175.68 437.24,175.24 437.62,174.79 438.00,174.34 438.38,173.90 438.76,173.45 439.14,173.00 439.52,172.55 439.90,172.11 440.28,171.66 440.66,171.21 441.04,170.77 441.42,170.33 441.80,169.88 442.18,169.44 442.56,169.00 442.94,168.56 443.32,168.12 443.70,167.69 444.08,167.26 444.46,166.82 444.84,166.40 445.22,165.97 445.60,165.55 445.98,165.12 446.36,164.71 446.74,164.29 447.12,163.88 447.50,163.47 447.88,163.07 448.26,162.66 448.64,162.27 449.02,161.87 449.40,161.49 449.78,161.10 450.16,160.72 450.54,160.35 450.92,159.97 451.30,159.61 451.68,159.25 452.06,158.89 452.44,158.54 452.82,158.20 453.20,157.86 453.58,157.53 453.96,157.20 454.34,156.88 454.72,156.56 455.10,156.25 455.48,155.95 455.86,155.66 456.24,155.37 456.62,155.09 457.00,154.81 457.38,154.55 457.76,154.28 458.14,154.03 458.52,153.79 458.90,153.55 459.28,153.32 459.66,153.10 460.04,152.88 460.42,152.68 460.80,152.48 461.18,152.29 461.56,152.11 461.94,151.93 462.32,151.77 462.70,151.61 463.08,151.46 463.46,151.32 463.84,151.19 464.22,151.07 464.60,150.96 464.98,150.85 465.36,150.76 465.74,150.67 466.12,150.59 466.50,150.52 466.88,150.46 467.26,150.41 467.64,150.37 468.02,150.34 468.40,150.32 468.78,150.30 469.16,150.30 469.54,150.30 469.92,150.32 470.30,150.34 470.68,150.37 471.06,150.41 471.44,150.46 471.82,150.52 472.20,150.59 472.58,150.67 472.96,150.76 473.34,150.85 473.72,150.96 474.10,151.07 474.48,151.19 474.86,151.32 475.24,151.46 475.62,151.61 476.00,151.77 476.38,151.93 476.76,152.11 477.14,152.29 477.52,152.48 477.90,152.68 478.28,152.88 478.66,153.10 479.04,153.32 479.42,153.55 479.80,153.79 480.18,154.03 480.56,154.28 480.94,154.55 481.32,154.81 481.70,155.09 482.08,155.37 482.46,155.66 482.84,155.95 483.22,156.25 483.60,156.56 483.98,156.88 484.36,157.20 484.74,157.53 485.12,157.86 485.50,158.20 485.88,158.54 486.26,158.89 486.64,159.25 487.02,159.61 487.40,159.97 487.78,160.35 488.16,160.72 488.54,161.10 488.92,161.49 489.30,161.87 489.68,162.27 490.06,162.66 490.44,163.07 490.82,163.47 491.20,163.88 491.58,164.29 491.96,164.71 492.34,165.12 492.72,165.55 493.10,165.97 493.48,166.40 493.86,166.82 494.24,167.26 494.62,167.69 495.00,168.12 495.38,168.56 495.76,169.00 496.14,169.44 496.52,169.88 496.90,170.33 497.28,170.77 497.66,171.21 498.04,171.66 498.42,172.11 498.80,172.55 499.18,173.00 499.56,173.45 499.94,173.90 500.32,174.34 500.70,174.79 501.08,175.24 501.46,175.68 501.84,176.13 502.22,176.57 502.60,177.02 502.98,177.46 503.36,177.90 503.74,178.35 504.12,178.79 504.50,179.22 504.88,179.66 505.26,180.09 505.64,180.53 506.02,180.96 506.40,181.39 506.78,181.82 507.16,182.24 507.54,182.66 507.92,183.08 508.30,183.50 508.68,183.92 509.06,184.33 509.44,184.74 509.82,185.14 510.20,185.55 510.58,185.95 510.96,186.35 511.34,186.74 511.72,187.13 512.10,187.52 512.48,187.91 512.86,188.29 513.24,188.67 513.62,189.04 514.00,189.41 514.38,189.78 514.76,190.15 515.14,190.51 515.52,190.86 515.90,191.21 516.28,191.56 516.66,191.91 517.04,192.25 517.42,192.59 517.80,192.92 518.18,193.25 518.56,193.58 518.94,193.90 519.32,194.21 519.70,194.53 520.08,194.84 520.46,195.14 520.84,195.44 521.22,195.74 521.60,196.03 521.98,196.32 522.36,196.61 522.74,196.89 523.12,197.17 523.50,197.44 523.88,197.71 524.26,197.97 524.64,198.23 525.02,198.49 525.40,198.74" fill="none" stroke="#111" stroke-width="1.3" stroke-linejoin="round" stroke-linecap="round" />
<polyline points="567.40,209.70 622.20,209.70 624.40,150.30 679.30,150.30" fill="none" stroke="#111" stroke-width="1.1" stroke-linejoin="round" stroke-linecap="round" />
<circle cx="567.40" cy="209.7" r="2.05" fill="#3f7bc8" fill-opacity="1"/>
<circle cx="573.07" cy="209.7" r="2.05" fill="#3f7bc8" fill-opacity="1"/>
<circle cx="578.74" cy="209.7" r="2.05" fill="#3f7bc8" fill-opacity="1"/>
<circle cx="584.41" cy="209.7" r="2.05" fill="#3f7bc8" fill-opacity="1"/>
<circle cx="590.08" cy="209.7" r="2.05" fill="#3f7bc8" fill-opacity="1"/>
<circle cx="595.75" cy="209.7" r="2.05" fill="#3f7bc8" fill-opacity="1"/>
<circle cx="601.42" cy="209.7" r="2.05" fill="#3f7bc8" fill-opacity="1"/>
<circle cx="607.09" cy="209.7" r="2.05" fill="#3f7bc8" fill-opacity="1"/>
<circle cx="612.76" cy="209.7" r="2.05" fill="#3f7bc8" fill-opacity="1"/>
<circle cx="618.43" cy="209.7" r="2.05" fill="#3f7bc8" fill-opacity="0.6"/>
<circle cx="618.5" cy="150.29999999999998" r="2.05" fill="#b2475a" fill-opacity="0.3"/>
<circle cx="624.40" cy="150.29999999999998" r="2.05" fill="#b04a5a"/>
<circle cx="630.07" cy="150.29999999999998" r="2.05" fill="#b04a5a"/>
<circle cx="635.74" cy="150.29999999999998" r="2.05" fill="#b04a5a"/>
<circle cx="641.41" cy="150.29999999999998" r="2.05" fill="#b04a5a"/>
<circle cx="647.08" cy="150.29999999999998" r="2.05" fill="#b04a5a"/>
<circle cx="652.75" cy="150.29999999999998" r="2.05" fill="#b04a5a"/>
<circle cx="658.42" cy="150.29999999999998" r="2.05" fill="#b04a5a"/>
<circle cx="664.09" cy="150.29999999999998" r="2.05" fill="#b04a5a"/>
<circle cx="669.76" cy="150.29999999999998" r="2.05" fill="#b04a5a"/>
<circle cx="675.43" cy="150.29999999999998" r="2.05" fill="#b04a5a"/>
<circle cx="679.3" cy="150.29999999999998" r="2.05" fill="#b04a5a"/>
<line x1="253.72" y1="266.0" x2="253.72" y2="337.5" stroke="#999999" stroke-width="1" />
<line x1="250.0" y1="337.5" x2="376.5" y2="337.5" stroke="#999999" stroke-width="1" />
<line x1="249.9" y1="266.5" x2="253.5" y2="266.5" stroke="#6e6e6e" stroke-width="0.9" />
<path d="M245.40,263.45 V269.05 M243.40,264.85 Q244.80,264.50 245.40,263.45" fill="none" stroke="#3a3a3a" stroke-width="0.95"/>
<text x="243.79999999999998" y="339.8" font-size="8" text-anchor="middle" fill="#262626" font-weight="normal" font-style="normal" >0</text>
<line x1="255.5" y1="337.5" x2="255.5" y2="341.0" stroke="#6e6e6e" stroke-width="0.9" />
<text x="255.2" y="350.2" font-size="8" text-anchor="middle" fill="#262626" font-weight="normal" font-style="normal" textLength="9.3" lengthAdjust="spacingAndGlyphs" >30</text>
<line x1="312.5" y1="337.5" x2="312.5" y2="341.0" stroke="#6e6e6e" stroke-width="0.9" />
<text x="312.4" y="350.2" font-size="8" text-anchor="middle" fill="#262626" font-weight="normal" font-style="normal" textLength="9.3" lengthAdjust="spacingAndGlyphs" >40</text>
<line x1="369.5" y1="337.5" x2="369.5" y2="341.0" stroke="#6e6e6e" stroke-width="0.9" />
<text x="369.59999999999997" y="350.2" font-size="8" text-anchor="middle" fill="#262626" font-weight="normal" font-style="normal" textLength="9.3" lengthAdjust="spacingAndGlyphs" >50</text>
<text x="302.8" y="363.6" font-size="8.3" fill="#262626"><tspan font-style="italic">T</tspan><tspan font-size="6.6" dy="2.9">0</tspan><tspan dy="-2.9"> (°C)</tspan></text>
<polyline points="259.10,270.50 274.70,272.90 285.10,273.70 297.40,273.10 310.70,272.50 325.90,272.20 343.00,272.20 353.40,271.20 371.40,272.40" fill="none" stroke="#b487b4" stroke-width="1.5" stroke-linejoin="round" stroke-linecap="round" />
<line x1="407.72" y1="266.0" x2="407.72" y2="337.5" stroke="#999999" stroke-width="1" />
<line x1="404.0" y1="337.5" x2="530.5" y2="337.5" stroke="#999999" stroke-width="1" />
<line x1="403.9" y1="266.5" x2="407.5" y2="266.5" stroke="#6e6e6e" stroke-width="0.9" />
<path d="M399.30,263.45 V269.05 M397.30,264.85 Q398.70,264.50 399.30,263.45" fill="none" stroke="#3a3a3a" stroke-width="0.95"/>
<text x="397.7" y="339.8" font-size="8" text-anchor="middle" fill="#262626" font-weight="normal" font-style="normal" >0</text>
<line x1="409.5" y1="337.5" x2="409.5" y2="341.0" stroke="#6e6e6e" stroke-width="0.9" />
<text x="409.3" y="350.2" font-size="8" text-anchor="middle" fill="#262626" font-weight="normal" font-style="normal" textLength="9.3" lengthAdjust="spacingAndGlyphs" >30</text>
<line x1="466.5" y1="337.5" x2="466.5" y2="341.0" stroke="#6e6e6e" stroke-width="0.9" />
<text x="466.5" y="350.2" font-size="8" text-anchor="middle" fill="#262626" font-weight="normal" font-style="normal" textLength="9.3" lengthAdjust="spacingAndGlyphs" >40</text>
<line x1="523.5" y1="337.5" x2="523.5" y2="341.0" stroke="#6e6e6e" stroke-width="0.9" />
<text x="523.7" y="350.2" font-size="8" text-anchor="middle" fill="#262626" font-weight="normal" font-style="normal" textLength="9.3" lengthAdjust="spacingAndGlyphs" >50</text>
<text x="456.9" y="363.6" font-size="8.3" fill="#262626"><tspan font-style="italic">T</tspan><tspan font-size="6.6" dy="2.9">0</tspan><tspan dy="-2.9"> (°C)</tspan></text>
<polyline points="413.30,284.70 422.40,286.40 430.40,285.60 439.80,283.70 449.30,283.20 458.80,282.40 472.10,281.70 483.50,282.80 498.70,283.50 508.20,282.00 515.70,280.70 525.20,277.90" fill="none" stroke="#b487b4" stroke-width="1.5" stroke-linejoin="round" stroke-linecap="round" />
<line x1="561.72" y1="266.0" x2="561.72" y2="337.5" stroke="#999999" stroke-width="1" />
<line x1="558.0" y1="337.5" x2="685" y2="337.5" stroke="#999999" stroke-width="1" />
<line x1="557.9" y1="266.5" x2="561.5" y2="266.5" stroke="#6e6e6e" stroke-width="0.9" />
<path d="M553.50,263.45 V269.05 M551.50,264.85 Q552.90,264.50 553.50,263.45" fill="none" stroke="#3a3a3a" stroke-width="0.95"/>
<text x="551.9000000000001" y="339.8" font-size="8" text-anchor="middle" fill="#262626" font-weight="normal" font-style="normal" >0</text>
<line x1="563.5" y1="337.5" x2="563.5" y2="341.0" stroke="#6e6e6e" stroke-width="0.9" />
<text x="563.3" y="350.2" font-size="8" text-anchor="middle" fill="#262626" font-weight="normal" font-style="normal" textLength="9.3" lengthAdjust="spacingAndGlyphs" >30</text>
<line x1="620.5" y1="337.5" x2="620.5" y2="341.0" stroke="#6e6e6e" stroke-width="0.9" />
<text x="620.5" y="350.2" font-size="8" text-anchor="middle" fill="#262626" font-weight="normal" font-style="normal" textLength="9.3" lengthAdjust="spacingAndGlyphs" >40</text>
<line x1="677.5" y1="337.5" x2="677.5" y2="341.0" stroke="#6e6e6e" stroke-width="0.9" />
<text x="677.6999999999999" y="350.2" font-size="8" text-anchor="middle" fill="#262626" font-weight="normal" font-style="normal" textLength="9.3" lengthAdjust="spacingAndGlyphs" >50</text>
<text x="610.9" y="363.6" font-size="8.3" fill="#262626"><tspan font-style="italic">T</tspan><tspan font-size="6.6" dy="2.9">0</tspan><tspan dy="-2.9"> (°C)</tspan></text>
<polyline points="567.30,282.20 576.30,273.30 584.40,273.70 593.30,275.00 602.10,268.90 610.40,272.90 619.10,269.50 627.70,280.50 636.20,276.00 644.80,279.90 653.70,276.50 662.20,277.50 670.80,281.30 679.30,285.40" fill="none" stroke="#b487b4" stroke-width="1.5" stroke-linejoin="round" stroke-linecap="round" />
<text transform="translate(242.2,302.5) rotate(-90)" text-anchor="middle" font-size="8.6" fill="#262626"><tspan font-style="italic">R</tspan><tspan font-size="6" dy="-3.4">2</tspan></text>
<text transform="translate(395.9,302.5) rotate(-90)" text-anchor="middle" font-size="8.6" fill="#262626"><tspan font-style="italic">R</tspan><tspan font-size="6" dy="-3.4">2</tspan></text>
<text transform="translate(550.6,301.4) rotate(-90)" text-anchor="middle" font-size="9.2" fill="#262626" font-style="italic">Φ</text>
<line x1="44.3" y1="189.6" x2="44.3" y2="337.5" stroke="#999999" stroke-width="1" />
<line x1="44.5" y1="337.5" x2="193.2" y2="337.5" stroke="#999999" stroke-width="1" />
<line x1="40.9" y1="327.5" x2="44.5" y2="327.5" stroke="#6e6e6e" stroke-width="0.9" />
<text x="37.3" y="330.09999999999997" font-size="8" text-anchor="end" fill="#262626" font-weight="normal" font-style="normal" textLength="8.3" lengthAdjust="spacingAndGlyphs" >25</text>
<line x1="54.5" y1="337.5" x2="54.5" y2="341.0" stroke="#6e6e6e" stroke-width="0.9" />
<text x="54.6" y="350.7" font-size="8" text-anchor="middle" fill="#262626" font-weight="normal" font-style="normal" textLength="8.3" lengthAdjust="spacingAndGlyphs" >25</text>
<line x1="40.9" y1="285.5" x2="44.5" y2="285.5" stroke="#6e6e6e" stroke-width="0.9" />
<text x="37.3" y="288.09999999999997" font-size="8" text-anchor="end" fill="#262626" font-weight="normal" font-style="normal" textLength="8.3" lengthAdjust="spacingAndGlyphs" >35</text>
<line x1="96.5" y1="337.5" x2="96.5" y2="341.0" stroke="#6e6e6e" stroke-width="0.9" />
<text x="96.6" y="350.7" font-size="8" text-anchor="middle" fill="#262626" font-weight="normal" font-style="normal" textLength="8.3" lengthAdjust="spacingAndGlyphs" >35</text>
<line x1="40.9" y1="243.5" x2="44.5" y2="243.5" stroke="#6e6e6e" stroke-width="0.9" />
<text x="37.3" y="246.1" font-size="8" text-anchor="end" fill="#262626" font-weight="normal" font-style="normal" textLength="8.3" lengthAdjust="spacingAndGlyphs" >45</text>
<line x1="138.5" y1="337.5" x2="138.5" y2="341.0" stroke="#6e6e6e" stroke-width="0.9" />
<text x="138.6" y="350.7" font-size="8" text-anchor="middle" fill="#262626" font-weight="normal" font-style="normal" textLength="8.3" lengthAdjust="spacingAndGlyphs" >45</text>
<line x1="40.9" y1="201.5" x2="44.5" y2="201.5" stroke="#6e6e6e" stroke-width="0.9" />
<text x="37.3" y="204.1" font-size="8" text-anchor="end" fill="#262626" font-weight="normal" font-style="normal" textLength="8.3" lengthAdjust="spacingAndGlyphs" >55</text>
<line x1="180.5" y1="337.5" x2="180.5" y2="341.0" stroke="#6e6e6e" stroke-width="0.9" />
<text x="180.6" y="350.7" font-size="8" text-anchor="middle" fill="#262626" font-weight="normal" font-style="normal" textLength="8.3" lengthAdjust="spacingAndGlyphs" >55</text>
<text x="117.05" y="180" font-size="9" text-anchor="middle" fill="#262626" font-weight="normal" font-style="normal" textLength="32.7" lengthAdjust="spacingAndGlyphs" >Sensing</text>
<text x="102.1" y="364.1" font-size="8.3" fill="#262626">T<tspan font-size="6.3" dy="2.3">true</tspan><tspan dy="-2.3"> (°C)</tspan></text>
<text transform="translate(20.2,263.8) rotate(-90)" text-anchor="middle" font-size="8.3" fill="#262626">T<tspan font-size="6.3" dy="2.3">pred</tspan><tspan dy="-2.3"> (°C)</tspan></text>
<line x1="56.5" y1="324.6" x2="180.7" y2="202" stroke="#1a1a1a" stroke-width="1.4" />
<circle cx="56.5" cy="316.9" r="1.95" fill="#d8856f"/>
<circle cx="56.5" cy="325.8" r="1.95" fill="#d8856f"/>
<circle cx="56.5" cy="327.5" r="1.95" fill="#d8856f"/>
<circle cx="62.7" cy="312.5" r="1.95" fill="#d8856f"/>
<circle cx="62.7" cy="314.2" r="1.95" fill="#d8856f"/>
<circle cx="62.7" cy="315.7" r="1.95" fill="#d8856f"/>
<circle cx="62.7" cy="322.2" r="1.95" fill="#d8856f"/>
<circle cx="68.9" cy="303.6" r="1.95" fill="#d8856f"/>
<circle cx="68.9" cy="311.6" r="1.95" fill="#d8856f"/>
<circle cx="68.9" cy="313.4" r="1.95" fill="#d8856f"/>
<circle cx="75.7" cy="297.4" r="1.95" fill="#d8856f"/>
<circle cx="75.7" cy="302.7" r="1.95" fill="#d8856f"/>
<circle cx="75.7" cy="304.5" r="1.95" fill="#d8856f"/>
<circle cx="75.7" cy="313" r="1.95" fill="#d8856f"/>
<circle cx="75.7" cy="316.9" r="1.95" fill="#d8856f"/>
<circle cx="81.9" cy="298" r="1.95" fill="#d8856f"/>
<circle cx="81.9" cy="300" r="1.95" fill="#d8856f"/>
<circle cx="81.9" cy="301.9" r="1.95" fill="#d8856f"/>
<circle cx="81.9" cy="313.9" r="1.95" fill="#d8856f"/>
<circle cx="88" cy="290.4" r="1.95" fill="#d8856f"/>
<circle cx="88" cy="292.7" r="1.95" fill="#d8856f"/>
<circle cx="88" cy="294.8" r="1.95" fill="#d8856f"/>
<circle cx="88" cy="300.1" r="1.95" fill="#d8856f"/>
<circle cx="94.2" cy="282.7" r="1.95" fill="#d8856f"/>
<circle cx="94.2" cy="288.6" r="1.95" fill="#d8856f"/>
<circle cx="94.2" cy="294.8" r="1.95" fill="#d8856f"/>
<circle cx="100.8" cy="276.7" r="1.95" fill="#d8856f"/>
<circle cx="100.8" cy="278.8" r="1.95" fill="#d8856f"/>
<circle cx="100.8" cy="281" r="1.95" fill="#d8856f"/>
<circle cx="100.8" cy="286.3" r="1.95" fill="#d8856f"/>
<circle cx="107" cy="267.5" r="1.95" fill="#d8856f"/>
<circle cx="107" cy="274.3" r="1.95" fill="#d8856f"/>
<circle cx="107" cy="281" r="1.95" fill="#d8856f"/>
<circle cx="113.2" cy="239.5" r="1.95" fill="#d8856f"/>
<circle cx="113.2" cy="262.2" r="1.95" fill="#d8856f"/>
<circle cx="113.2" cy="270.7" r="1.95" fill="#d8856f"/>
<circle cx="119.8" cy="254.7" r="1.95" fill="#d8856f"/>
<circle cx="119.8" cy="259.5" r="1.95" fill="#d8856f"/>
<circle cx="119.8" cy="266.2" r="1.95" fill="#d8856f"/>
<circle cx="119.8" cy="271.9" r="1.95" fill="#d8856f"/>
<circle cx="126" cy="243.6" r="1.95" fill="#d8856f"/>
<circle cx="126" cy="257.7" r="1.95" fill="#d8856f"/>
<circle cx="126" cy="259.5" r="1.95" fill="#d8856f"/>
<circle cx="132.2" cy="246.6" r="1.95" fill="#d8856f"/>
<circle cx="132.2" cy="253" r="1.95" fill="#d8856f"/>
<circle cx="138.4" cy="241.8" r="1.95" fill="#d8856f"/>
<circle cx="138.4" cy="246.6" r="1.95" fill="#d8856f"/>
<circle cx="144.8" cy="233.5" r="1.95" fill="#d8856f"/>
<circle cx="144.8" cy="237" r="1.95" fill="#d8856f"/>
<circle cx="144.8" cy="242.2" r="1.95" fill="#d8856f"/>
<circle cx="151" cy="229.6" r="1.95" fill="#d8856f"/>
<circle cx="151" cy="232.1" r="1.95" fill="#d8856f"/>
<circle cx="157.5" cy="213" r="1.95" fill="#d8856f"/>
<circle cx="157.5" cy="218" r="1.95" fill="#d8856f"/>
<circle cx="157.5" cy="219.7" r="1.95" fill="#d8856f"/>
<circle cx="157.5" cy="225" r="1.95" fill="#d8856f"/>
<circle cx="163.7" cy="214.4" r="1.95" fill="#d8856f"/>
<circle cx="163.7" cy="221" r="1.95" fill="#d8856f"/>
<circle cx="163.7" cy="221.9" r="1.95" fill="#d8856f"/>
<circle cx="170" cy="208.6" r="1.95" fill="#d8856f"/>
<circle cx="170" cy="210.9" r="1.95" fill="#d8856f"/>
<circle cx="170" cy="213" r="1.95" fill="#d8856f"/>
<circle cx="176.2" cy="205.6" r="1.95" fill="#d8856f"/>
<circle cx="176.2" cy="208.6" r="1.95" fill="#d8856f"/>
<circle cx="176.2" cy="212.1" r="1.95" fill="#d8856f"/>
<circle cx="180.7" cy="196.2" r="1.95" fill="#d8856f"/>
<circle cx="180.7" cy="209.8" r="1.95" fill="#d8856f"/>
<circle cx="180.7" cy="211.6" r="1.95" fill="#d8856f"/>
<defs><linearGradient id="thg" x1="0" y1="0" x2="0" y2="1"><stop offset="0" stop-color="#ffffff"/><stop offset="0.25" stop-color="#f6f0e0"/><stop offset="0.5" stop-color="#e9a23c"/><stop offset="1" stop-color="#cf5a48"/></linearGradient><clipPath id="cc"><ellipse cx="62.25" cy="56.4" rx="41.5" ry="39.2"/></clipPath></defs>
<rect x="1.4" y="40.4" width="15.6" height="31.6" rx="2.6" fill="#e9ecf1" stroke="#4a4a4a" stroke-width="0.8"/>
<rect x="6.4" y="46.1" width="4.2" height="14.5" rx="2.1" fill="url(#thg)" stroke="#2a2a2a" stroke-width="0.7"/>
<circle cx="8.5" cy="62.1" r="4.4" fill="#c84a55" stroke="#2a2a2a" stroke-width="0.7"/>
<rect x="7.1" y="56.5" width="2.8" height="5.5" fill="#cf5a4c"/>
<line x1="17" y1="56.2" x2="20.6" y2="56.2" stroke="#333" stroke-width="0.8"/>
<line x1="104" y1="56.3" x2="116.3" y2="56.3" stroke="#333" stroke-width="0.9"/>
<ellipse cx="62.25" cy="56.4" rx="41.95" ry="39.7" fill="#eaedf2" stroke="#2a2a2a" stroke-width="0.8"/>
<path d="M44.00,26.40 L44.55,26.60 L45.04,26.50 L45.47,26.10 L45.90,25.70 L46.39,25.60 L46.95,25.80 L47.50,26.00 L47.99,25.89 L48.42,25.49 L48.85,25.10 L49.34,25.01 L49.92,25.23 L50.49,25.42 L50.99,25.26 L51.44,24.82 L51.91,24.47 L52.44,24.47 L53.03,24.72 L53.59,24.83 L54.06,24.56 L54.50,24.10 L54.97,23.81 L55.52,23.90 L56.11,24.14 L56.65,24.16 L57.11,23.81 L57.60,23.60" fill="none" stroke="#2f6153" stroke-width="1.8" stroke-linecap="round" stroke-linejoin="round" stroke-dasharray="1.9,0.55"/>
<path d="M44.00,26.40 L44.55,26.60 L45.04,26.50 L45.47,26.10 L45.90,25.70 L46.39,25.60 L46.95,25.80 L47.50,26.00 L47.99,25.89 L48.42,25.49 L48.85,25.10 L49.34,25.01 L49.92,25.23 L50.49,25.42 L50.99,25.26 L51.44,24.82 L51.91,24.47 L52.44,24.47 L53.03,24.72 L53.59,24.83 L54.06,24.56 L54.50,24.10 L54.97,23.81 L55.52,23.90 L56.11,24.14 L56.65,24.16 L57.11,23.81 L57.60,23.60" fill="none" stroke="#75a290" stroke-width="0.81" stroke-linecap="butt" stroke-linejoin="round" stroke-dasharray="1.2,1.25"/>
<path d="M31.50,37.30 L32.16,37.19 L32.54,36.74 L32.74,36.07 L33.08,35.57 L33.71,35.41 L34.39,35.33 L34.79,34.99 L34.99,34.41 L35.19,33.84 L35.62,33.54 L36.25,33.47 L36.82,33.33 L37.15,32.92 L37.44,32.29 L38.08,32.27 L38.55,32.70 L38.98,33.27 L39.54,33.47 L40.23,33.30 L40.85,33.25 L41.32,33.61 L41.73,34.16 L42.23,34.45 L42.86,34.34 L43.54,34.22 L44.06,34.56 L44.42,35.21 L44.90,35.63 L45.59,35.61 L46.15,35.90 L46.40,36.39 L46.37,37.05 L46.44,37.65 L46.85,38.04 L47.30,38.40" fill="none" stroke="#2f6153" stroke-width="1.8" stroke-linecap="round" stroke-linejoin="round" stroke-dasharray="1.9,0.55"/>
<path d="M31.50,37.30 L32.16,37.19 L32.54,36.74 L32.74,36.07 L33.08,35.57 L33.71,35.41 L34.39,35.33 L34.79,34.99 L34.99,34.41 L35.19,33.84 L35.62,33.54 L36.25,33.47 L36.82,33.33 L37.15,32.92 L37.44,32.29 L38.08,32.27 L38.55,32.70 L38.98,33.27 L39.54,33.47 L40.23,33.30 L40.85,33.25 L41.32,33.61 L41.73,34.16 L42.23,34.45 L42.86,34.34 L43.54,34.22 L44.06,34.56 L44.42,35.21 L44.90,35.63 L45.59,35.61 L46.15,35.90 L46.40,36.39 L46.37,37.05 L46.44,37.65 L46.85,38.04 L47.30,38.40" fill="none" stroke="#75a290" stroke-width="0.81" stroke-linecap="butt" stroke-linejoin="round" stroke-dasharray="1.2,1.25"/>
<path d="M26.50,52.50 L26.99,52.92 L27.56,52.95 L28.17,52.68 L28.76,52.56 L29.28,52.86 L29.66,53.29 L30.04,53.69 L30.66,53.77 L31.30,53.82 L31.73,54.14 L32.00,54.70" fill="none" stroke="#2f6153" stroke-width="1.8" stroke-linecap="round" stroke-linejoin="round" stroke-dasharray="1.9,0.55"/>
<path d="M26.50,52.50 L26.99,52.92 L27.56,52.95 L28.17,52.68 L28.76,52.56 L29.28,52.86 L29.66,53.29 L30.04,53.69 L30.66,53.77 L31.30,53.82 L31.73,54.14 L32.00,54.70" fill="none" stroke="#75a290" stroke-width="0.81" stroke-linecap="butt" stroke-linejoin="round" stroke-dasharray="1.2,1.25"/>
<path d="M40.70,51.40 L41.35,51.51 L41.86,51.22 L42.26,50.65 L42.74,50.27 L43.41,50.31 L43.92,50.74 L44.47,50.83 L45.05,50.56 L45.64,50.32 L46.18,50.48 L46.68,50.92 L47.21,51.19 L47.81,51.04 L48.32,50.61 L48.86,50.46 L49.43,50.70 L50.01,50.98 L50.55,50.91 L51.06,50.50 L51.58,50.17 L52.13,50.24 L52.72,50.56 L53.30,50.67 L53.82,50.36 L54.31,49.92 L54.86,49.78 L55.45,50.03 L56.04,50.27 L56.58,50.12 L57.09,49.68 L57.61,49.40 L58.17,49.53 L58.76,49.85 L59.31,49.92 L59.83,49.59 L60.34,49.18 L60.88,49.11 L61.46,49.39 L62.00,49.30" fill="none" stroke="#2f6153" stroke-width="1.8" stroke-linecap="round" stroke-linejoin="round" stroke-dasharray="1.9,0.55"/>
<path d="M40.70,51.40 L41.35,51.51 L41.86,51.22 L42.26,50.65 L42.74,50.27 L43.41,50.31 L43.92,50.74 L44.47,50.83 L45.05,50.56 L45.64,50.32 L46.18,50.48 L46.68,50.92 L47.21,51.19 L47.81,51.04 L48.32,50.61 L48.86,50.46 L49.43,50.70 L50.01,50.98 L50.55,50.91 L51.06,50.50 L51.58,50.17 L52.13,50.24 L52.72,50.56 L53.30,50.67 L53.82,50.36 L54.31,49.92 L54.86,49.78 L55.45,50.03 L56.04,50.27 L56.58,50.12 L57.09,49.68 L57.61,49.40 L58.17,49.53 L58.76,49.85 L59.31,49.92 L59.83,49.59 L60.34,49.18 L60.88,49.11 L61.46,49.39 L62.00,49.30" fill="none" stroke="#75a290" stroke-width="0.81" stroke-linecap="butt" stroke-linejoin="round" stroke-dasharray="1.2,1.25"/>
<path d="M59.80,38.90 L60.42,39.09 L60.95,38.89 L61.42,38.39 L62.00,38.40" fill="none" stroke="#2f6153" stroke-width="1.8" stroke-linecap="round" stroke-linejoin="round" stroke-dasharray="1.9,0.55"/>
<path d="M59.80,38.90 L60.42,39.09 L60.95,38.89 L61.42,38.39 L62.00,38.40" fill="none" stroke="#75a290" stroke-width="0.81" stroke-linecap="butt" stroke-linejoin="round" stroke-dasharray="1.2,1.25"/>
<path d="M67.60,21.40 L68.20,21.63 L68.74,21.48 L69.23,21.03 L69.75,20.72 L70.33,20.83 L70.72,21.03 L70.95,21.54 L71.50,21.81 L72.10,22.05 L72.42,22.48 L72.47,23.13 L72.60,23.72 L73.01,24.06 L73.63,24.23 L74.16,24.47 L74.40,24.97 L74.47,25.61 L74.69,26.13 L75.30,26.30" fill="none" stroke="#2f6153" stroke-width="1.8" stroke-linecap="round" stroke-linejoin="round" stroke-dasharray="1.9,0.55"/>
<path d="M67.60,21.40 L68.20,21.63 L68.74,21.48 L69.23,21.03 L69.75,20.72 L70.33,20.83 L70.72,21.03 L70.95,21.54 L71.50,21.81 L72.10,22.05 L72.42,22.48 L72.47,23.13 L72.60,23.72 L73.01,24.06 L73.63,24.23 L74.16,24.47 L74.40,24.97 L74.47,25.61 L74.69,26.13 L75.30,26.30" fill="none" stroke="#75a290" stroke-width="0.81" stroke-linecap="butt" stroke-linejoin="round" stroke-dasharray="1.2,1.25"/>
<path d="M62.70,34.50 L63.25,34.22 L63.50,33.75 L63.49,33.11 L63.55,32.52 L63.92,32.13 L64.48,31.91 L65.03,31.76 L65.35,31.30 L65.54,30.69 L65.87,30.24 L66.41,30.11 L67.03,30.00 L67.47,29.71 L67.66,29.16 L67.78,28.55 L68.10,28.14 L68.70,28.00" fill="none" stroke="#2f6153" stroke-width="1.8" stroke-linecap="round" stroke-linejoin="round" stroke-dasharray="1.9,0.55"/>
<path d="M62.70,34.50 L63.25,34.22 L63.50,33.75 L63.49,33.11 L63.55,32.52 L63.92,32.13 L64.48,31.91 L65.03,31.76 L65.35,31.30 L65.54,30.69 L65.87,30.24 L66.41,30.11 L67.03,30.00 L67.47,29.71 L67.66,29.16 L67.78,28.55 L68.10,28.14 L68.70,28.00" fill="none" stroke="#75a290" stroke-width="0.81" stroke-linecap="butt" stroke-linejoin="round" stroke-dasharray="1.2,1.25"/>
<path d="M60.00,38.90 L60.51,39.27 L61.06,39.27 L61.63,38.96 L62.19,38.76 L62.72,38.95 L63.22,39.38 L63.75,39.60 L64.31,39.42 L64.88,39.10 L65.40,39.07 L65.90,39.34 L66.40,39.67 L66.90,39.73 L67.40,39.46 L67.90,39.13 L68.40,39.07 L68.90,39.34 L69.40,39.67 L69.90,39.73 L70.40,39.46 L71.00,39.15 L71.50,39.29 L71.89,39.76 L72.26,40.25 L72.75,40.43 L73.36,40.31 L73.95,40.23 L74.42,40.48 L74.78,40.99 L75.30,41.10" fill="none" stroke="#2f6153" stroke-width="1.8" stroke-linecap="round" stroke-linejoin="round" stroke-dasharray="1.9,0.55"/>
<path d="M60.00,38.90 L60.51,39.27 L61.06,39.27 L61.63,38.96 L62.19,38.76 L62.72,38.95 L63.22,39.38 L63.75,39.60 L64.31,39.42 L64.88,39.10 L65.40,39.07 L65.90,39.34 L66.40,39.67 L66.90,39.73 L67.40,39.46 L67.90,39.13 L68.40,39.07 L68.90,39.34 L69.40,39.67 L69.90,39.73 L70.40,39.46 L71.00,39.15 L71.50,39.29 L71.89,39.76 L72.26,40.25 L72.75,40.43 L73.36,40.31 L73.95,40.23 L74.42,40.48 L74.78,40.99 L75.30,41.10" fill="none" stroke="#75a290" stroke-width="0.81" stroke-linecap="butt" stroke-linejoin="round" stroke-dasharray="1.2,1.25"/>
<path d="M91.60,47.60 L91.64,48.25 L92.03,48.68 L92.66,48.94 L93.15,49.29 L93.27,49.89 L93.27,50.57 L93.80,50.90" fill="none" stroke="#2f6153" stroke-width="1.8" stroke-linecap="round" stroke-linejoin="round" stroke-dasharray="1.9,0.55"/>
<path d="M91.60,47.60 L91.64,48.25 L92.03,48.68 L92.66,48.94 L93.15,49.29 L93.27,49.89 L93.27,50.57 L93.80,50.90" fill="none" stroke="#75a290" stroke-width="0.81" stroke-linecap="butt" stroke-linejoin="round" stroke-dasharray="1.2,1.25"/>
<path d="M78.00,54.10 L78.59,54.23 L79.07,54.06 L79.46,53.59 L79.86,53.15 L80.37,53.04 L80.96,53.20 L81.53,53.30 L82.00,53.06 L82.38,52.56 L82.90,52.50" fill="none" stroke="#2f6153" stroke-width="1.8" stroke-linecap="round" stroke-linejoin="round" stroke-dasharray="1.9,0.55"/>
<path d="M78.00,54.10 L78.59,54.23 L79.07,54.06 L79.46,53.59 L79.86,53.15 L80.37,53.04 L80.96,53.20 L81.53,53.30 L82.00,53.06 L82.38,52.56 L82.90,52.50" fill="none" stroke="#75a290" stroke-width="0.81" stroke-linecap="butt" stroke-linejoin="round" stroke-dasharray="1.2,1.25"/>
<path d="M31.70,55.20 L31.60,55.78 L31.78,56.25 L32.25,56.61 L32.71,56.97 L32.88,57.44 L32.77,58.03 L32.67,58.60 L32.87,59.06 L33.34,59.42 L33.78,59.76 L33.99,60.28 L33.91,60.95 L33.96,61.56 L34.39,61.97 L34.99,62.29 L35.34,62.75 L35.32,63.40 L35.08,64.03 L35.27,64.60 L35.76,65.11 L36.04,65.66 L35.80,66.30" fill="none" stroke="#2f6153" stroke-width="1.8" stroke-linecap="round" stroke-linejoin="round" stroke-dasharray="1.9,0.55"/>
<path d="M31.70,55.20 L31.60,55.78 L31.78,56.25 L32.25,56.61 L32.71,56.97 L32.88,57.44 L32.77,58.03 L32.67,58.60 L32.87,59.06 L33.34,59.42 L33.78,59.76 L33.99,60.28 L33.91,60.95 L33.96,61.56 L34.39,61.97 L34.99,62.29 L35.34,62.75 L35.32,63.40 L35.08,64.03 L35.27,64.60 L35.76,65.11 L36.04,65.66 L35.80,66.30" fill="none" stroke="#75a290" stroke-width="0.81" stroke-linecap="butt" stroke-linejoin="round" stroke-dasharray="1.2,1.25"/>
<path d="M36.40,76.30 L36.96,76.53 L37.47,76.44 L37.93,76.04 L38.40,75.68 L38.92,75.66 L39.49,75.93 L40.04,76.11 L40.53,75.94 L41.00,75.51 L41.47,75.21 L42.01,75.27 L42.57,75.55 L43.11,75.67 L43.60,75.42 L44.06,74.99 L44.60,75.10" fill="none" stroke="#2f6153" stroke-width="1.8" stroke-linecap="round" stroke-linejoin="round" stroke-dasharray="1.9,0.55"/>
<path d="M36.40,76.30 L36.96,76.53 L37.47,76.44 L37.93,76.04 L38.40,75.68 L38.92,75.66 L39.49,75.93 L40.04,76.11 L40.53,75.94 L41.00,75.51 L41.47,75.21 L42.01,75.27 L42.57,75.55 L43.11,75.67 L43.60,75.42 L44.06,74.99 L44.60,75.10" fill="none" stroke="#75a290" stroke-width="0.81" stroke-linecap="butt" stroke-linejoin="round" stroke-dasharray="1.2,1.25"/>
<path d="M42.30,69.80 L42.74,70.24 L43.28,70.33 L43.89,70.12 L44.47,70.00 L44.96,70.26 L45.39,70.76 L45.87,71.07 L46.44,71.00 L47.20,70.88 L47.58,71.33 L47.59,72.01 L47.61,72.67 L48.02,73.11 L48.66,73.40 L49.13,74.09 L48.69,74.59 L48.19,75.07 L48.11,75.66 L48.20,76.30" fill="none" stroke="#2f6153" stroke-width="1.8" stroke-linecap="round" stroke-linejoin="round" stroke-dasharray="1.9,0.55"/>
<path d="M42.30,69.80 L42.74,70.24 L43.28,70.33 L43.89,70.12 L44.47,70.00 L44.96,70.26 L45.39,70.76 L45.87,71.07 L46.44,71.00 L47.20,70.88 L47.58,71.33 L47.59,72.01 L47.61,72.67 L48.02,73.11 L48.66,73.40 L49.13,74.09 L48.69,74.59 L48.19,75.07 L48.11,75.66 L48.20,76.30" fill="none" stroke="#75a290" stroke-width="0.81" stroke-linecap="butt" stroke-linejoin="round" stroke-dasharray="1.2,1.25"/>
<path d="M53.50,68.10 L53.36,68.69 L53.54,69.19 L54.02,69.58 L54.45,70.00 L54.52,70.53 L54.34,71.13 L54.27,71.71 L54.58,72.17 L55.09,72.55 L55.45,72.99 L55.43,73.55 L55.26,74.17 L55.30,74.71 L55.80,75.10" fill="none" stroke="#2f6153" stroke-width="1.8" stroke-linecap="round" stroke-linejoin="round" stroke-dasharray="1.9,0.55"/>
<path d="M53.50,68.10 L53.36,68.69 L53.54,69.19 L54.02,69.58 L54.45,70.00 L54.52,70.53 L54.34,71.13 L54.27,71.71 L54.58,72.17 L55.09,72.55 L55.45,72.99 L55.43,73.55 L55.26,74.17 L55.30,74.71 L55.80,75.10" fill="none" stroke="#75a290" stroke-width="0.81" stroke-linecap="butt" stroke-linejoin="round" stroke-dasharray="1.2,1.25"/>
<path d="M65.30,59.90 L65.91,59.61 L66.16,59.07 L66.17,58.35 L66.38,57.78 L66.97,57.47 L67.67,57.31 L68.05,56.81 L68.21,56.08 L68.80,55.80" fill="none" stroke="#2f6153" stroke-width="1.8" stroke-linecap="round" stroke-linejoin="round" stroke-dasharray="1.9,0.55"/>
<path d="M65.30,59.90 L65.91,59.61 L66.16,59.07 L66.17,58.35 L66.38,57.78 L66.97,57.47 L67.67,57.31 L68.05,56.81 L68.21,56.08 L68.80,55.80" fill="none" stroke="#75a290" stroke-width="0.81" stroke-linecap="butt" stroke-linejoin="round" stroke-dasharray="1.2,1.25"/>
<path d="M83.40,54.60 L83.59,55.16 L83.99,55.47 L84.57,55.56 L85.15,55.65 L85.53,55.99 L85.72,56.55 L85.92,57.10 L86.33,57.40 L86.92,57.47 L87.49,57.58 L87.86,57.93 L88.04,58.50 L88.25,59.04 L88.67,59.32 L89.27,59.39 L89.83,59.50 L90.18,59.87 L90.35,60.44 L90.48,61.01 L90.87,61.34 L91.47,61.51 L91.99,61.73 L92.24,62.19 L92.31,62.81 L92.47,63.35 L92.91,63.65 L93.51,63.80 L94.02,64.06 L94.25,64.60 L94.50,65.10" fill="none" stroke="#2f6153" stroke-width="1.8" stroke-linecap="round" stroke-linejoin="round" stroke-dasharray="1.9,0.55"/>
<path d="M83.40,54.60 L83.59,55.16 L83.99,55.47 L84.57,55.56 L85.15,55.65 L85.53,55.99 L85.72,56.55 L85.92,57.10 L86.33,57.40 L86.92,57.47 L87.49,57.58 L87.86,57.93 L88.04,58.50 L88.25,59.04 L88.67,59.32 L89.27,59.39 L89.83,59.50 L90.18,59.87 L90.35,60.44 L90.48,61.01 L90.87,61.34 L91.47,61.51 L91.99,61.73 L92.24,62.19 L92.31,62.81 L92.47,63.35 L92.91,63.65 L93.51,63.80 L94.02,64.06 L94.25,64.60 L94.50,65.10" fill="none" stroke="#75a290" stroke-width="0.81" stroke-linecap="butt" stroke-linejoin="round" stroke-dasharray="1.2,1.25"/>
<path d="M76.40,71.60 L76.72,72.16 L77.24,72.38 L77.92,72.34 L78.51,72.43 L78.89,72.89 L79.17,73.50 L79.57,73.88 L80.18,73.93 L80.81,73.95 L81.10,74.50" fill="none" stroke="#2f6153" stroke-width="1.8" stroke-linecap="round" stroke-linejoin="round" stroke-dasharray="1.9,0.55"/>
<path d="M76.40,71.60 L76.72,72.16 L77.24,72.38 L77.92,72.34 L78.51,72.43 L78.89,72.89 L79.17,73.50 L79.57,73.88 L80.18,73.93 L80.81,73.95 L81.10,74.50" fill="none" stroke="#75a290" stroke-width="0.81" stroke-linecap="butt" stroke-linejoin="round" stroke-dasharray="1.2,1.25"/>
<path d="M64.70,76.80 L65.14,77.24 L65.68,77.33 L66.29,77.12 L66.87,77.00 L67.36,77.26 L67.79,77.76 L68.27,78.07 L68.84,78.00 L69.43,77.77 L69.96,77.74 L70.44,78.07 L70.90,78.48 L71.40,78.62 L71.96,78.42 L72.52,78.17 L73.03,78.22 L73.50,78.60 L73.97,78.98 L74.48,79.04 L75.04,78.79 L75.60,78.58 L76.10,78.71 L76.56,79.12 L77.04,79.46 L77.60,79.20" fill="none" stroke="#2f6153" stroke-width="1.8" stroke-linecap="round" stroke-linejoin="round" stroke-dasharray="1.9,0.55"/>
<path d="M64.70,76.80 L65.14,77.24 L65.68,77.33 L66.29,77.12 L66.87,77.00 L67.36,77.26 L67.79,77.76 L68.27,78.07 L68.84,78.00 L69.43,77.77 L69.96,77.74 L70.44,78.07 L70.90,78.48 L71.40,78.62 L71.96,78.42 L72.52,78.17 L73.03,78.22 L73.50,78.60 L73.97,78.98 L74.48,79.04 L75.04,78.79 L75.60,78.58 L76.10,78.71 L76.56,79.12 L77.04,79.46 L77.60,79.20" fill="none" stroke="#75a290" stroke-width="0.81" stroke-linecap="butt" stroke-linejoin="round" stroke-dasharray="1.2,1.25"/>
<path d="M80.50,81.50 L80.97,81.88 L81.48,81.94 L82.04,81.69 L82.60,81.48 L83.10,81.61 L83.56,82.03 L84.04,82.36 L84.57,82.34 L85.14,82.05 L85.69,81.89 L86.19,82.11 L86.67,82.54 L87.17,82.78 L87.72,82.64 L88.28,82.35 L88.82,82.29 L89.30,82.70" fill="none" stroke="#2f6153" stroke-width="1.8" stroke-linecap="round" stroke-linejoin="round" stroke-dasharray="1.9,0.55"/>
<path d="M80.50,81.50 L80.97,81.88 L81.48,81.94 L82.04,81.69 L82.60,81.48 L83.10,81.61 L83.56,82.03 L84.04,82.36 L84.57,82.34 L85.14,82.05 L85.69,81.89 L86.19,82.11 L86.67,82.54 L87.17,82.78 L87.72,82.64 L88.28,82.35 L88.82,82.29 L89.30,82.70" fill="none" stroke="#75a290" stroke-width="0.81" stroke-linecap="butt" stroke-linejoin="round" stroke-dasharray="1.2,1.25"/>
<path d="M28.80,72.20 L29.39,71.99 L29.70,71.54 L29.77,70.90 L29.91,70.32 L30.35,69.99 L30.98,69.82 L31.14,69.64 L31.76,69.50 L32.41,69.22 L32.99,69.31 L33.51,69.78 L33.81,69.99 L34.25,70.35 L34.87,70.59 L35.29,70.96 L35.30,71.60" fill="none" stroke="#1f4b52" stroke-width="1.8" stroke-linecap="round" stroke-linejoin="round" stroke-dasharray="1.9,0.55"/>
<path d="M28.80,72.20 L29.39,71.99 L29.70,71.54 L29.77,70.90 L29.91,70.32 L30.35,69.99 L30.98,69.82 L31.14,69.64 L31.76,69.50 L32.41,69.22 L32.99,69.31 L33.51,69.78 L33.81,69.99 L34.25,70.35 L34.87,70.59 L35.29,70.96 L35.30,71.60" fill="none" stroke="#4f8a8a" stroke-width="0.81" stroke-linecap="butt" stroke-linejoin="round" stroke-dasharray="1.2,1.25"/>
<path d="M57.60,92.70 L58.02,93.15 L58.55,93.26 L59.16,93.08 L59.75,92.97 L60.23,93.24 L60.63,93.74 L61.09,94.09 L61.70,93.90" fill="none" stroke="#1f4b52" stroke-width="1.8" stroke-linecap="round" stroke-linejoin="round" stroke-dasharray="1.9,0.55"/>
<path d="M57.60,92.70 L58.02,93.15 L58.55,93.26 L59.16,93.08 L59.75,92.97 L60.23,93.24 L60.63,93.74 L61.09,94.09 L61.70,93.90" fill="none" stroke="#4f8a8a" stroke-width="0.81" stroke-linecap="butt" stroke-linejoin="round" stroke-dasharray="1.2,1.25"/>
<path d="M93.90,65.10 L93.43,65.47 L93.26,65.96 L93.38,66.56 L93.47,67.15 L93.23,67.61 L92.74,67.95 L92.21,68.18 L91.95,68.65 L91.89,69.28 L91.73,69.82 L91.29,70.13 L90.68,70.30 L90.20,70.58 L90.01,71.09 L89.92,71.76 L89.54,72.21 L88.91,72.32 L88.24,72.38 L87.80,72.74 L87.50,73.30" fill="none" stroke="#1f4b52" stroke-width="1.8" stroke-linecap="round" stroke-linejoin="round" stroke-dasharray="1.9,0.55"/>
<path d="M93.90,65.10 L93.43,65.47 L93.26,65.96 L93.38,66.56 L93.47,67.15 L93.23,67.61 L92.74,67.95 L92.21,68.18 L91.95,68.65 L91.89,69.28 L91.73,69.82 L91.29,70.13 L90.68,70.30 L90.20,70.58 L90.01,71.09 L89.92,71.76 L89.54,72.21 L88.91,72.32 L88.24,72.38 L87.80,72.74 L87.50,73.30" fill="none" stroke="#4f8a8a" stroke-width="0.81" stroke-linecap="butt" stroke-linejoin="round" stroke-dasharray="1.2,1.25"/>
<path d="M60.00,92.60 L60.48,92.98 L61.01,93.01 L61.57,92.74 L62.13,92.54 L62.64,92.69 L63.12,93.11 L63.61,93.41 L64.15,93.33 L64.70,93.20" fill="none" stroke="#1f4b52" stroke-width="1.8" stroke-linecap="round" stroke-linejoin="round" stroke-dasharray="1.9,0.55"/>
<path d="M60.00,92.60 L60.48,92.98 L61.01,93.01 L61.57,92.74 L62.13,92.54 L62.64,92.69 L63.12,93.11 L63.61,93.41 L64.15,93.33 L64.70,93.20" fill="none" stroke="#4f8a8a" stroke-width="0.81" stroke-linecap="butt" stroke-linejoin="round" stroke-dasharray="1.2,1.25"/>
<path d="M60.00,52.00 L60.65,52.13 L61.17,51.85 L61.60,51.29 L62.09,50.94 L62.73,51.01 L63.30,50.90" fill="none" stroke="#1f4b52" stroke-width="1.8" stroke-linecap="round" stroke-linejoin="round" stroke-dasharray="1.9,0.55"/>
<path d="M60.00,52.00 L60.65,52.13 L61.17,51.85 L61.60,51.29 L62.09,50.94 L62.73,51.01 L63.30,50.90" fill="none" stroke="#4f8a8a" stroke-width="0.81" stroke-linecap="butt" stroke-linejoin="round" stroke-dasharray="1.2,1.25"/>
<path d="M90.00,41.60 L90.66,41.68 L91.16,41.37 L91.55,40.78 L92.03,40.40 L92.73,40.44 L93.11,41.06 L93.69,41.26 L94.43,41.16 L94.90,41.60" fill="none" stroke="#1a3358" stroke-width="1.8" stroke-linecap="round" stroke-linejoin="round" stroke-dasharray="1.9,0.55"/>
<path d="M90.00,41.60 L90.66,41.68 L91.16,41.37 L91.55,40.78 L92.03,40.40 L92.73,40.44 L93.11,41.06 L93.69,41.26 L94.43,41.16 L94.90,41.60" fill="none" stroke="#4a70ad" stroke-width="0.81" stroke-linecap="butt" stroke-linejoin="round" stroke-dasharray="1.2,1.25"/>
<path d="M94.90,43.80 L95.19,44.33 L95.65,44.58 L96.28,44.56 L96.87,44.58 L97.28,44.92 L97.53,45.47 L97.72,46.01 L98.18,46.29 L98.80,46.40 L99.31,46.62 L99.57,47.10 L99.80,47.60" fill="none" stroke="#1a3358" stroke-width="1.8" stroke-linecap="round" stroke-linejoin="round" stroke-dasharray="1.9,0.55"/>
<path d="M94.90,43.80 L95.19,44.33 L95.65,44.58 L96.28,44.56 L96.87,44.58 L97.28,44.92 L97.53,45.47 L97.72,46.01 L98.18,46.29 L98.80,46.40 L99.31,46.62 L99.57,47.10 L99.80,47.60" fill="none" stroke="#4a70ad" stroke-width="0.81" stroke-linecap="butt" stroke-linejoin="round" stroke-dasharray="1.2,1.25"/>
<path d="M29.40,75.70 L29.71,76.28 L30.24,76.50 L30.93,76.48 L31.52,76.60 L31.88,77.10 L32.14,77.71 L32.53,78.08 L33.15,78.16 L33.78,78.24 L34.18,78.60 L34.39,79.21 L34.66,79.74 L35.30,79.80" fill="none" stroke="#1a3358" stroke-width="1.8" stroke-linecap="round" stroke-linejoin="round" stroke-dasharray="1.9,0.55"/>
<path d="M29.40,75.70 L29.71,76.28 L30.24,76.50 L30.93,76.48 L31.52,76.60 L31.88,77.10 L32.14,77.71 L32.53,78.08 L33.15,78.16 L33.78,78.24 L34.18,78.60 L34.39,79.21 L34.66,79.74 L35.30,79.80" fill="none" stroke="#4a70ad" stroke-width="0.81" stroke-linecap="butt" stroke-linejoin="round" stroke-dasharray="1.2,1.25"/>
<path d="M44.60,84.50 L45.06,84.89 L45.58,84.95 L46.15,84.71 L46.71,84.52 L47.21,84.68 L47.67,85.11 L48.00,85.38 L48.50,85.58 L49.13,85.59 L49.68,85.72 L49.90,86.30" fill="none" stroke="#1a3358" stroke-width="1.8" stroke-linecap="round" stroke-linejoin="round" stroke-dasharray="1.9,0.55"/>
<path d="M44.60,84.50 L45.06,84.89 L45.58,84.95 L46.15,84.71 L46.71,84.52 L47.21,84.68 L47.67,85.11 L48.00,85.38 L48.50,85.58 L49.13,85.59 L49.68,85.72 L49.90,86.30" fill="none" stroke="#4a70ad" stroke-width="0.81" stroke-linecap="butt" stroke-linejoin="round" stroke-dasharray="1.2,1.25"/>
<path d="M52.30,86.90 L52.27,87.50 L52.52,87.95 L53.06,88.26 L53.55,88.59 L53.71,89.05 L53.73,89.76 L53.89,90.36 L54.44,90.70 L55.09,90.96 L55.20,91.60" fill="none" stroke="#1a3358" stroke-width="1.8" stroke-linecap="round" stroke-linejoin="round" stroke-dasharray="1.9,0.55"/>
<path d="M52.30,86.90 L52.27,87.50 L52.52,87.95 L53.06,88.26 L53.55,88.59 L53.71,89.05 L53.73,89.76 L53.89,90.36 L54.44,90.70 L55.09,90.96 L55.20,91.60" fill="none" stroke="#4a70ad" stroke-width="0.81" stroke-linecap="butt" stroke-linejoin="round" stroke-dasharray="1.2,1.25"/>
<path d="M80.50,71.00 L81.11,70.71 L81.36,70.17 L81.37,69.45 L81.58,68.88 L82.17,68.57 L82.87,68.41 L83.25,67.91 L83.41,67.18 L84.00,66.90" fill="none" stroke="#1a3358" stroke-width="1.8" stroke-linecap="round" stroke-linejoin="round" stroke-dasharray="1.9,0.55"/>
<path d="M80.50,71.00 L81.11,70.71 L81.36,70.17 L81.37,69.45 L81.58,68.88 L82.17,68.57 L82.87,68.41 L83.25,67.91 L83.41,67.18 L84.00,66.90" fill="none" stroke="#4a70ad" stroke-width="0.81" stroke-linecap="butt" stroke-linejoin="round" stroke-dasharray="1.2,1.25"/>
<path d="M67.00,90.90 L67.48,91.29 L68.02,91.33 L68.60,91.06 L69.17,90.88 L69.68,91.09 L70.16,91.53 L70.66,91.81 L71.22,91.69 L71.80,91.40 L72.30,91.70" fill="none" stroke="#1a3358" stroke-width="1.8" stroke-linecap="round" stroke-linejoin="round" stroke-dasharray="1.9,0.55"/>
<path d="M67.00,90.90 L67.48,91.29 L68.02,91.33 L68.60,91.06 L69.17,90.88 L69.68,91.09 L70.16,91.53 L70.66,91.81 L71.22,91.69 L71.80,91.40 L72.30,91.70" fill="none" stroke="#4a70ad" stroke-width="0.81" stroke-linecap="butt" stroke-linejoin="round" stroke-dasharray="1.2,1.25"/>
<path d="M60.00,57.50 L60.55,57.72 L61.05,57.62 L61.50,57.23 L61.95,56.85 L62.45,56.79 L63.01,57.02 L63.50,56.90" fill="none" stroke="#1a3358" stroke-width="1.8" stroke-linecap="round" stroke-linejoin="round" stroke-dasharray="1.9,0.55"/>
<path d="M60.00,57.50 L60.55,57.72 L61.05,57.62 L61.50,57.23 L61.95,56.85 L62.45,56.79 L63.01,57.02 L63.50,56.90" fill="none" stroke="#4a70ad" stroke-width="0.81" stroke-linecap="butt" stroke-linejoin="round" stroke-dasharray="1.2,1.25"/>
<path d="M57.50,60.50 L57.86,61.04 L58.39,61.22 L59.06,61.14 L59.66,61.19 L60.07,61.62 L60.39,62.21 L60.85,62.54 L61.50,62.50" fill="none" stroke="#1a3358" stroke-width="1.8" stroke-linecap="round" stroke-linejoin="round" stroke-dasharray="1.9,0.55"/>
<path d="M57.50,60.50 L57.86,61.04 L58.39,61.22 L59.06,61.14 L59.66,61.19 L60.07,61.62 L60.39,62.21 L60.85,62.54 L61.50,62.50" fill="none" stroke="#4a70ad" stroke-width="0.81" stroke-linecap="butt" stroke-linejoin="round" stroke-dasharray="1.2,1.25"/>
<path d="M33.1,52 Q40,47 40.7,38.5" fill="none" stroke="#222" stroke-width="0.75"/>
<path d="M40.7,36.8 L42.3,39.7 L39.6,39.9 Z" fill="#222"/>
<path d="M51.6,29.1 Q46,36 45.3,44 Q45,53 47,58.7" fill="none" stroke="#222" stroke-width="0.75"/>
<path d="M51.6,49.8 Q48,43 51.6,37.8 Q54.5,35 58.8,35.1" fill="none" stroke="#222" stroke-width="0.75"/>
<path d="M60.6,35.1 L57.6,36.5 L57.6,33.8 Z" fill="#222"/>
<path d="M66.5,41.1 Q66,33 73.1,32.9 Q80,32.5 83.4,37.8 Q84.5,40 84,41.5" fill="none" stroke="#222" stroke-width="0.75"/>
<path d="M84.0,43.2 L82.8,40.2 L85.5,40.2 Z" fill="#222"/>
<path d="M67.1,42.1 Q66.8,47 66.5,50" fill="none" stroke="#222" stroke-width="0.75"/>
<path d="M66.5,51.8 L65.2,48.8 L67.8,48.8 Z" fill="#222"/>
<path d="M84,52 Q84.5,45.5 89.4,44.3" fill="none" stroke="#222" stroke-width="0.75"/>
<path d="M91.4,44.2 L88.5,45.7 L88.3,43.0 Z" fill="#222"/>
<path d="M47,58.7 Q42,65 38.5,70.3" fill="none" stroke="#222" stroke-width="0.75"/>
<path d="M37.4,71.8 L38.0,68.6 L40.2,70.1 Z" fill="#222"/>
<path d="M47,58.7 Q49.5,63 50.4,68" fill="none" stroke="#222" stroke-width="0.75"/>
<path d="M50.5,69.8 L49.0,66.8 L51.7,66.8 Z" fill="#222"/>
<path d="M47,76.3 Q54,78 57.2,82.5 Q58,85 57.7,86.3" fill="none" stroke="#222" stroke-width="0.75"/>
<path d="M57.6,88.0 L56.4,85.0 L59.1,85.0 Z" fill="#222"/>
<path d="M46,58 Q53,62.8 60,61 Q65.9,62.8 71.7,62.2 Q75.2,58.7 75.8,54 Q76,48 72,45" fill="none" stroke="#222" stroke-width="0.75"/>
<path d="M62.3,61.4 Q76,62.6 87.5,66.2" fill="none" stroke="#222" stroke-width="0.75"/>
<path d="M89.3,66.7 L86.1,67.3 L86.7,64.7 Z" fill="#222"/>
<path d="M61.2,65.7 Q68,67.5 73.5,69.4" fill="none" stroke="#222" stroke-width="0.75"/>
<path d="M75.2,69.8 L72.0,70.3 L72.7,67.7 Z" fill="#222"/>
<path d="M68.2,78.6 Q63,81 62.5,87.3" fill="none" stroke="#222" stroke-width="0.75"/>
<path d="M62.3,89.1 L61.1,86.1 L63.8,86.1 Z" fill="#222"/>
<path d="M72,46 Q69,50 66,56" fill="none" stroke="#222" stroke-width="0.6"/>
<path d="M35.90,45.40 L34.75,44.11 A2.1,2.1 0 1 1 34.75,46.69 Z" fill="#a6d57f" stroke="#333" stroke-width="0.4"/>
<path d="M53.90,42.70 L52.75,41.41 A2.1,2.1 0 1 1 52.75,43.99 Z" fill="#e8707a" stroke="#333" stroke-width="0.4"/>
<path d="M69.80,45.40 L68.65,44.11 A2.1,2.1 0 1 1 68.65,46.69 Z" fill="#72c9b0" stroke="#333" stroke-width="0.4"/>
<path d="M80.20,45.40 L79.05,44.11 A2.1,2.1 0 1 1 79.05,46.69 Z" fill="#a8a8f0" stroke="#333" stroke-width="0.4"/>
<path d="M51.20,57.50 L50.05,56.21 A2.1,2.1 0 1 1 50.05,58.79 Z" fill="#c080e0" stroke="#333" stroke-width="0.4"/>
<path d="M39.50,60.50 L38.35,59.21 A2.1,2.1 0 1 1 38.35,61.79 Z" fill="#f1b055" stroke="#333" stroke-width="0.4"/>
<path d="M67.10,71.60 L65.95,70.31 A2.1,2.1 0 1 1 65.95,72.89 Z" fill="#e86070" stroke="#333" stroke-width="0.4"/>
<path d="M77.10,65.30 L75.95,64.01 A2.1,2.1 0 1 1 75.95,66.59 Z" fill="#efc27a" stroke="#333" stroke-width="0.4"/>
<path d="M60.10,82.10 L58.95,80.81 A2.1,2.1 0 1 1 58.95,83.39 Z" fill="#eaa4d6" stroke="#333" stroke-width="0.4"/>
<path d="M126.9,10.3 H116.3 V103.1 H126.7" fill="none" stroke="#3a3a3a" stroke-width="1"/>
<line x1="126.6" y1="28.5" x2="147.8" y2="10.6" stroke="#e0866a" stroke-width="1.3"/>
<polyline points="126.50,51.73 126.86,51.71 127.21,51.70 127.57,51.68 127.93,51.65 128.28,51.62 128.64,51.59 129.00,51.55 129.35,51.50 129.71,51.44 130.07,51.37 130.42,51.28 130.78,51.18 131.14,51.06 131.49,50.92 131.85,50.75 132.21,50.56 132.56,50.33 132.92,50.06 133.28,49.76 133.63,49.40 133.99,49.00 134.35,48.54 134.70,48.02 135.06,47.45 135.42,46.83 135.77,46.15 136.13,45.43 136.49,44.68 136.84,43.90 137.20,43.10 137.56,42.30 137.91,41.52 138.27,40.77 138.63,40.05 138.98,39.37 139.34,38.75 139.70,38.18 140.05,37.66 140.41,37.20 140.77,36.80 141.12,36.44 141.48,36.14 141.84,35.87 142.19,35.64 142.55,35.45 142.91,35.28 143.26,35.14 143.62,35.02 143.98,34.92 144.33,34.83 144.69,34.76 145.05,34.70 145.40,34.65 145.76,34.61 146.12,34.58 146.47,34.55 146.83,34.52 147.19,34.50 147.54,34.49 147.90,34.47" fill="none" stroke="#bf90c0" stroke-width="1.4"/>
<polyline points="126.50,75.46 126.86,75.41 127.21,75.35 127.57,75.26 127.93,75.14 128.28,75.00 128.64,74.81 129.00,74.59 129.35,74.30 129.71,73.96 130.07,73.56 130.42,73.07 130.78,72.51 131.14,71.87 131.49,71.14 131.85,70.32 132.21,69.42 132.56,68.44 132.92,67.40 133.28,66.32 133.63,65.20 133.99,64.07 134.35,62.95 134.70,61.88 135.06,60.88 135.42,59.97 135.77,59.19 136.13,58.55 136.49,58.08 136.84,57.80 137.20,57.70 137.56,57.80 137.91,58.08 138.27,58.55 138.63,59.19 138.98,59.97 139.34,60.88 139.70,61.88 140.05,62.95 140.41,64.07 140.77,65.20 141.12,66.32 141.48,67.40 141.84,68.44 142.19,69.42 142.55,70.32 142.91,71.14 143.26,71.87 143.62,72.51 143.98,73.07 144.33,73.56 144.69,73.96 145.05,74.30 145.40,74.59 145.76,74.81 146.12,75.00 146.47,75.14 146.83,75.26 147.19,75.35 147.54,75.41 147.90,75.46" fill="none" stroke="#bf90c0" stroke-width="1.4"/>
<rect x="135.5" y="89.3" width="13.2" height="13.1" fill="#5b85bf" stroke="#333" stroke-width="0.7"/>
<text x="141.8" y="98.9" font-size="8.3" text-anchor="middle" fill="#222">0</text>
<rect x="126.3" y="80.8" width="13.1" height="12.5" fill="#c95b6b" stroke="#333" stroke-width="0.7"/>
<path d="M133.20,83.90 V90.00 M131.00,85.40 Q132.50,85.00 133.20,83.90" fill="none" stroke="#222" stroke-width="1.0"/>
<text x="152.2" y="23.2" font-size="9" fill="#262626">Sensing</text>
<text x="152.2" y="47.4" font-size="9" fill="#262626">Activation</text>
<text x="152.2" y="69.5" font-size="9" fill="#262626">Tuning</text>
<text x="152.2" y="95.1" font-size="9" fill="#262626">Decision-making</text>
</svg></body></html>
